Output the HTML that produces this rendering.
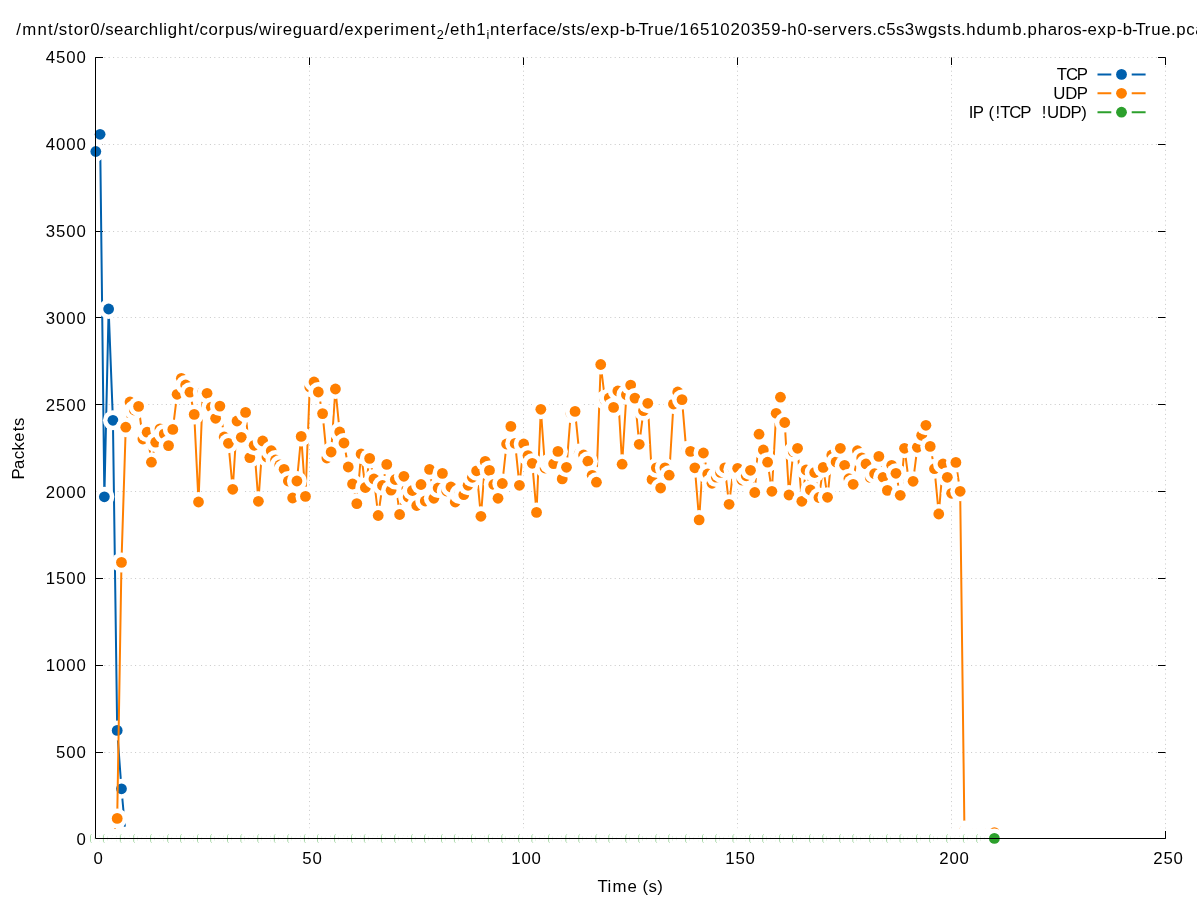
<!DOCTYPE html>
<html><head><meta charset="utf-8"><style>
html,body{margin:0;padding:0;background:#fff;width:1197px;height:900px;overflow:hidden}
svg{display:block;will-change:transform}
text{font-family:"Liberation Sans",sans-serif;font-size:16.8px;fill:#000;white-space:pre}
</style></head><body>
<svg width="1197" height="900" viewBox="0 0 1197 900">
<rect width="100%" height="100%" fill="#fff"/>
<path d="M95.5 838.5H1165.5 M95.5 752.5H1165.5 M95.5 665.5H1165.5 M95.5 578.5H1165.5 M95.5 491.5H1165.5 M95.5 404.5H1165.5 M95.5 317.5H1165.5 M95.5 231.5H1165.5 M95.5 144.5H1165.5 M95.5 57.5H1165.5 M95.5 57.5V838.5 M309.5 57.5V838.5 M523.5 57.5V838.5 M737.5 57.5V838.5 M951.5 57.5V838.5 M1165.5 57.5V838.5" stroke="#c8c8c8" stroke-width="1" stroke-dasharray="1 3.4" fill="none"/>
<path d="M95.5 838.5h7.5M1165.5 838.5h-7.5M95.5 752.5h7.5M1165.5 752.5h-7.5M95.5 665.5h7.5M1165.5 665.5h-7.5M95.5 578.5h7.5M1165.5 578.5h-7.5M95.5 491.5h7.5M1165.5 491.5h-7.5M95.5 404.5h7.5M1165.5 404.5h-7.5M95.5 317.5h7.5M1165.5 317.5h-7.5M95.5 231.5h7.5M1165.5 231.5h-7.5M95.5 144.5h7.5M1165.5 144.5h-7.5M95.5 57.5h7.5M1165.5 57.5h-7.5M95.5 838.5v-7.5M95.5 57.5v7.5M309.5 838.5v-7.5M309.5 57.5v7.5M523.5 838.5v-7.5M523.5 57.5v7.5M737.5 838.5v-7.5M737.5 57.5v7.5M951.5 838.5v-7.5M951.5 57.5v7.5M1165.5 838.5v-7.5M1165.5 57.5v7.5" stroke="#000" stroke-width="1" fill="none"/>
<path d="M95.80 151.50 L100.08 134.30 L104.36 496.80 L108.64 309.00 L112.92 420.30 L117.19 730.40 L121.47 788.80 L125.75 836.50 L130.03 838.40 L134.31 838.40 L138.59 838.40 L142.87 838.40 L147.15 838.40 L151.43 838.40 L155.71 838.40 L159.99 838.40 L164.26 838.40 L168.54 838.40 L172.82 838.40 L177.10 838.40 L181.38 838.40 L185.66 838.40 L189.94 838.40 L194.22 838.40 L198.50 838.40 L202.77 838.40 L207.05 838.40 L211.33 838.40 L215.61 838.40 L219.89 838.40 L224.17 838.40 L228.45 838.40 L232.73 838.40 L237.01 838.40 L241.29 838.40 L245.56 838.40 L249.84 838.40 L254.12 838.40 L258.40 838.40 L262.68 838.40 L266.96 838.40 L271.24 838.40 L275.52 838.40 L279.80 838.40 L284.08 838.40 L288.36 838.40 L292.63 838.40 L296.91 838.40 L301.19 838.40 L305.47 838.40 L309.75 838.40 L314.03 838.40 L318.31 838.40 L322.59 838.40 L326.87 838.40 L331.14 838.40 L335.42 838.40 L339.70 838.40 L343.98 838.40 L348.26 838.40 L352.54 838.40 L356.82 838.40 L361.10 838.40 L365.38 838.40 L369.66 838.40 L373.94 838.40 L378.21 838.40 L382.49 838.40 L386.77 838.40 L391.05 838.40 L395.33 838.40 L399.61 838.40 L403.89 838.40 L408.17 838.40 L412.45 838.40 L416.73 838.40 L421.00 838.40 L425.28 838.40 L429.56 838.40 L433.84 838.40 L438.12 838.40 L442.40 838.40 L446.68 838.40 L450.96 838.40 L455.24 838.40 L459.51 838.40 L463.79 838.40 L468.07 838.40 L472.35 838.40 L476.63 838.40 L480.91 838.40 L485.19 838.40 L489.47 838.40 L493.75 838.40 L498.03 838.40 L502.31 838.40 L506.58 838.40 L510.86 838.40 L515.14 838.40 L519.42 838.40 L523.70 838.40 L527.98 838.40 L532.26 838.40 L536.54 838.40 L540.82 838.40 L545.10 838.40 L549.37 838.40 L553.65 838.40 L557.93 838.40 L562.21 838.40 L566.49 838.40 L570.77 838.40 L575.05 838.40 L579.33 838.40 L583.61 838.40 L587.88 838.40 L592.16 838.40 L596.44 838.40 L600.72 838.40 L605.00 838.40 L609.28 838.40 L613.56 838.40 L617.84 838.40 L622.12 838.40 L626.40 838.40 L630.67 838.40 L634.95 838.40 L639.23 838.40 L643.51 838.40 L647.79 838.40 L652.07 838.40 L656.35 838.40 L660.63 838.40 L664.91 838.40 L669.19 838.40 L673.46 838.40 L677.74 838.40 L682.02 838.40 L686.30 838.40 L690.58 838.40 L694.86 838.40 L699.14 838.40 L703.42 838.40 L707.70 838.40 L711.98 838.40 L716.25 838.40 L720.53 838.40 L724.81 838.40 L729.09 838.40 L733.37 838.40 L737.65 838.40 L741.93 838.40 L746.21 838.40 L750.49 838.40 L754.77 838.40 L759.04 838.40 L763.32 838.40 L767.60 838.40 L771.88 838.40 L776.16 838.40 L780.44 838.40 L784.72 838.40 L789.00 838.40 L793.28 838.40 L797.56 838.40 L801.83 838.40 L806.11 838.40 L810.39 838.40 L814.67 838.40 L818.95 838.40 L823.23 838.40 L827.51 838.40 L831.79 838.40 L836.07 838.40 L840.35 838.40 L844.62 838.40 L848.90 838.40 L853.18 838.40 L857.46 838.40 L861.74 838.40 L866.02 838.40 L870.30 838.40 L874.58 838.40 L878.86 838.40 L883.14 838.40 L887.41 838.40 L891.69 838.40 L895.97 838.40 L900.25 838.40 L904.53 838.40 L908.81 838.40 L913.09 838.40 L917.37 838.40 L921.65 838.40 L925.93 838.40 L930.20 838.40 L934.48 838.40 L938.76 838.40 L943.04 838.40 L947.32 838.40 L951.60 838.40 L955.88 838.40 L960.16 838.40 L964.44 838.40 L968.72 838.40 L972.99 838.40 L977.27 838.40 L981.55 838.40 L985.83 838.40 L990.11 838.40 L994.39 838.40" stroke="#0060ad" stroke-width="2.0" fill="none" stroke-linejoin="round"/>
<circle cx="95.80" cy="151.50" r="10.0" fill="#fff"/><circle cx="95.80" cy="151.50" r="5.4" fill="#0060ad"/>
<circle cx="100.08" cy="134.30" r="10.0" fill="#fff"/><circle cx="100.08" cy="134.30" r="5.4" fill="#0060ad"/>
<circle cx="104.36" cy="496.80" r="10.0" fill="#fff"/><circle cx="104.36" cy="496.80" r="5.4" fill="#0060ad"/>
<circle cx="108.64" cy="309.00" r="10.0" fill="#fff"/><circle cx="108.64" cy="309.00" r="5.4" fill="#0060ad"/>
<circle cx="112.92" cy="420.30" r="10.0" fill="#fff"/><circle cx="112.92" cy="420.30" r="5.4" fill="#0060ad"/>
<circle cx="117.19" cy="730.40" r="10.0" fill="#fff"/><circle cx="117.19" cy="730.40" r="5.4" fill="#0060ad"/>
<circle cx="121.47" cy="788.80" r="10.0" fill="#fff"/><circle cx="121.47" cy="788.80" r="5.4" fill="#0060ad"/>
<circle cx="125.75" cy="836.50" r="10.0" fill="#fff"/><circle cx="125.75" cy="836.50" r="5.4" fill="#0060ad"/>
<circle cx="130.03" cy="838.40" r="10.0" fill="#fff"/><circle cx="130.03" cy="838.40" r="5.4" fill="#0060ad"/>
<circle cx="134.31" cy="838.40" r="10.0" fill="#fff"/><circle cx="134.31" cy="838.40" r="5.4" fill="#0060ad"/>
<circle cx="138.59" cy="838.40" r="10.0" fill="#fff"/><circle cx="138.59" cy="838.40" r="5.4" fill="#0060ad"/>
<circle cx="142.87" cy="838.40" r="10.0" fill="#fff"/><circle cx="142.87" cy="838.40" r="5.4" fill="#0060ad"/>
<circle cx="147.15" cy="838.40" r="10.0" fill="#fff"/><circle cx="147.15" cy="838.40" r="5.4" fill="#0060ad"/>
<circle cx="151.43" cy="838.40" r="10.0" fill="#fff"/><circle cx="151.43" cy="838.40" r="5.4" fill="#0060ad"/>
<circle cx="155.71" cy="838.40" r="10.0" fill="#fff"/><circle cx="155.71" cy="838.40" r="5.4" fill="#0060ad"/>
<circle cx="159.99" cy="838.40" r="10.0" fill="#fff"/><circle cx="159.99" cy="838.40" r="5.4" fill="#0060ad"/>
<circle cx="164.26" cy="838.40" r="10.0" fill="#fff"/><circle cx="164.26" cy="838.40" r="5.4" fill="#0060ad"/>
<circle cx="168.54" cy="838.40" r="10.0" fill="#fff"/><circle cx="168.54" cy="838.40" r="5.4" fill="#0060ad"/>
<circle cx="172.82" cy="838.40" r="10.0" fill="#fff"/><circle cx="172.82" cy="838.40" r="5.4" fill="#0060ad"/>
<circle cx="177.10" cy="838.40" r="10.0" fill="#fff"/><circle cx="177.10" cy="838.40" r="5.4" fill="#0060ad"/>
<circle cx="181.38" cy="838.40" r="10.0" fill="#fff"/><circle cx="181.38" cy="838.40" r="5.4" fill="#0060ad"/>
<circle cx="185.66" cy="838.40" r="10.0" fill="#fff"/><circle cx="185.66" cy="838.40" r="5.4" fill="#0060ad"/>
<circle cx="189.94" cy="838.40" r="10.0" fill="#fff"/><circle cx="189.94" cy="838.40" r="5.4" fill="#0060ad"/>
<circle cx="194.22" cy="838.40" r="10.0" fill="#fff"/><circle cx="194.22" cy="838.40" r="5.4" fill="#0060ad"/>
<circle cx="198.50" cy="838.40" r="10.0" fill="#fff"/><circle cx="198.50" cy="838.40" r="5.4" fill="#0060ad"/>
<circle cx="202.77" cy="838.40" r="10.0" fill="#fff"/><circle cx="202.77" cy="838.40" r="5.4" fill="#0060ad"/>
<circle cx="207.05" cy="838.40" r="10.0" fill="#fff"/><circle cx="207.05" cy="838.40" r="5.4" fill="#0060ad"/>
<circle cx="211.33" cy="838.40" r="10.0" fill="#fff"/><circle cx="211.33" cy="838.40" r="5.4" fill="#0060ad"/>
<circle cx="215.61" cy="838.40" r="10.0" fill="#fff"/><circle cx="215.61" cy="838.40" r="5.4" fill="#0060ad"/>
<circle cx="219.89" cy="838.40" r="10.0" fill="#fff"/><circle cx="219.89" cy="838.40" r="5.4" fill="#0060ad"/>
<circle cx="224.17" cy="838.40" r="10.0" fill="#fff"/><circle cx="224.17" cy="838.40" r="5.4" fill="#0060ad"/>
<circle cx="228.45" cy="838.40" r="10.0" fill="#fff"/><circle cx="228.45" cy="838.40" r="5.4" fill="#0060ad"/>
<circle cx="232.73" cy="838.40" r="10.0" fill="#fff"/><circle cx="232.73" cy="838.40" r="5.4" fill="#0060ad"/>
<circle cx="237.01" cy="838.40" r="10.0" fill="#fff"/><circle cx="237.01" cy="838.40" r="5.4" fill="#0060ad"/>
<circle cx="241.29" cy="838.40" r="10.0" fill="#fff"/><circle cx="241.29" cy="838.40" r="5.4" fill="#0060ad"/>
<circle cx="245.56" cy="838.40" r="10.0" fill="#fff"/><circle cx="245.56" cy="838.40" r="5.4" fill="#0060ad"/>
<circle cx="249.84" cy="838.40" r="10.0" fill="#fff"/><circle cx="249.84" cy="838.40" r="5.4" fill="#0060ad"/>
<circle cx="254.12" cy="838.40" r="10.0" fill="#fff"/><circle cx="254.12" cy="838.40" r="5.4" fill="#0060ad"/>
<circle cx="258.40" cy="838.40" r="10.0" fill="#fff"/><circle cx="258.40" cy="838.40" r="5.4" fill="#0060ad"/>
<circle cx="262.68" cy="838.40" r="10.0" fill="#fff"/><circle cx="262.68" cy="838.40" r="5.4" fill="#0060ad"/>
<circle cx="266.96" cy="838.40" r="10.0" fill="#fff"/><circle cx="266.96" cy="838.40" r="5.4" fill="#0060ad"/>
<circle cx="271.24" cy="838.40" r="10.0" fill="#fff"/><circle cx="271.24" cy="838.40" r="5.4" fill="#0060ad"/>
<circle cx="275.52" cy="838.40" r="10.0" fill="#fff"/><circle cx="275.52" cy="838.40" r="5.4" fill="#0060ad"/>
<circle cx="279.80" cy="838.40" r="10.0" fill="#fff"/><circle cx="279.80" cy="838.40" r="5.4" fill="#0060ad"/>
<circle cx="284.08" cy="838.40" r="10.0" fill="#fff"/><circle cx="284.08" cy="838.40" r="5.4" fill="#0060ad"/>
<circle cx="288.36" cy="838.40" r="10.0" fill="#fff"/><circle cx="288.36" cy="838.40" r="5.4" fill="#0060ad"/>
<circle cx="292.63" cy="838.40" r="10.0" fill="#fff"/><circle cx="292.63" cy="838.40" r="5.4" fill="#0060ad"/>
<circle cx="296.91" cy="838.40" r="10.0" fill="#fff"/><circle cx="296.91" cy="838.40" r="5.4" fill="#0060ad"/>
<circle cx="301.19" cy="838.40" r="10.0" fill="#fff"/><circle cx="301.19" cy="838.40" r="5.4" fill="#0060ad"/>
<circle cx="305.47" cy="838.40" r="10.0" fill="#fff"/><circle cx="305.47" cy="838.40" r="5.4" fill="#0060ad"/>
<circle cx="309.75" cy="838.40" r="10.0" fill="#fff"/><circle cx="309.75" cy="838.40" r="5.4" fill="#0060ad"/>
<circle cx="314.03" cy="838.40" r="10.0" fill="#fff"/><circle cx="314.03" cy="838.40" r="5.4" fill="#0060ad"/>
<circle cx="318.31" cy="838.40" r="10.0" fill="#fff"/><circle cx="318.31" cy="838.40" r="5.4" fill="#0060ad"/>
<circle cx="322.59" cy="838.40" r="10.0" fill="#fff"/><circle cx="322.59" cy="838.40" r="5.4" fill="#0060ad"/>
<circle cx="326.87" cy="838.40" r="10.0" fill="#fff"/><circle cx="326.87" cy="838.40" r="5.4" fill="#0060ad"/>
<circle cx="331.14" cy="838.40" r="10.0" fill="#fff"/><circle cx="331.14" cy="838.40" r="5.4" fill="#0060ad"/>
<circle cx="335.42" cy="838.40" r="10.0" fill="#fff"/><circle cx="335.42" cy="838.40" r="5.4" fill="#0060ad"/>
<circle cx="339.70" cy="838.40" r="10.0" fill="#fff"/><circle cx="339.70" cy="838.40" r="5.4" fill="#0060ad"/>
<circle cx="343.98" cy="838.40" r="10.0" fill="#fff"/><circle cx="343.98" cy="838.40" r="5.4" fill="#0060ad"/>
<circle cx="348.26" cy="838.40" r="10.0" fill="#fff"/><circle cx="348.26" cy="838.40" r="5.4" fill="#0060ad"/>
<circle cx="352.54" cy="838.40" r="10.0" fill="#fff"/><circle cx="352.54" cy="838.40" r="5.4" fill="#0060ad"/>
<circle cx="356.82" cy="838.40" r="10.0" fill="#fff"/><circle cx="356.82" cy="838.40" r="5.4" fill="#0060ad"/>
<circle cx="361.10" cy="838.40" r="10.0" fill="#fff"/><circle cx="361.10" cy="838.40" r="5.4" fill="#0060ad"/>
<circle cx="365.38" cy="838.40" r="10.0" fill="#fff"/><circle cx="365.38" cy="838.40" r="5.4" fill="#0060ad"/>
<circle cx="369.66" cy="838.40" r="10.0" fill="#fff"/><circle cx="369.66" cy="838.40" r="5.4" fill="#0060ad"/>
<circle cx="373.94" cy="838.40" r="10.0" fill="#fff"/><circle cx="373.94" cy="838.40" r="5.4" fill="#0060ad"/>
<circle cx="378.21" cy="838.40" r="10.0" fill="#fff"/><circle cx="378.21" cy="838.40" r="5.4" fill="#0060ad"/>
<circle cx="382.49" cy="838.40" r="10.0" fill="#fff"/><circle cx="382.49" cy="838.40" r="5.4" fill="#0060ad"/>
<circle cx="386.77" cy="838.40" r="10.0" fill="#fff"/><circle cx="386.77" cy="838.40" r="5.4" fill="#0060ad"/>
<circle cx="391.05" cy="838.40" r="10.0" fill="#fff"/><circle cx="391.05" cy="838.40" r="5.4" fill="#0060ad"/>
<circle cx="395.33" cy="838.40" r="10.0" fill="#fff"/><circle cx="395.33" cy="838.40" r="5.4" fill="#0060ad"/>
<circle cx="399.61" cy="838.40" r="10.0" fill="#fff"/><circle cx="399.61" cy="838.40" r="5.4" fill="#0060ad"/>
<circle cx="403.89" cy="838.40" r="10.0" fill="#fff"/><circle cx="403.89" cy="838.40" r="5.4" fill="#0060ad"/>
<circle cx="408.17" cy="838.40" r="10.0" fill="#fff"/><circle cx="408.17" cy="838.40" r="5.4" fill="#0060ad"/>
<circle cx="412.45" cy="838.40" r="10.0" fill="#fff"/><circle cx="412.45" cy="838.40" r="5.4" fill="#0060ad"/>
<circle cx="416.73" cy="838.40" r="10.0" fill="#fff"/><circle cx="416.73" cy="838.40" r="5.4" fill="#0060ad"/>
<circle cx="421.00" cy="838.40" r="10.0" fill="#fff"/><circle cx="421.00" cy="838.40" r="5.4" fill="#0060ad"/>
<circle cx="425.28" cy="838.40" r="10.0" fill="#fff"/><circle cx="425.28" cy="838.40" r="5.4" fill="#0060ad"/>
<circle cx="429.56" cy="838.40" r="10.0" fill="#fff"/><circle cx="429.56" cy="838.40" r="5.4" fill="#0060ad"/>
<circle cx="433.84" cy="838.40" r="10.0" fill="#fff"/><circle cx="433.84" cy="838.40" r="5.4" fill="#0060ad"/>
<circle cx="438.12" cy="838.40" r="10.0" fill="#fff"/><circle cx="438.12" cy="838.40" r="5.4" fill="#0060ad"/>
<circle cx="442.40" cy="838.40" r="10.0" fill="#fff"/><circle cx="442.40" cy="838.40" r="5.4" fill="#0060ad"/>
<circle cx="446.68" cy="838.40" r="10.0" fill="#fff"/><circle cx="446.68" cy="838.40" r="5.4" fill="#0060ad"/>
<circle cx="450.96" cy="838.40" r="10.0" fill="#fff"/><circle cx="450.96" cy="838.40" r="5.4" fill="#0060ad"/>
<circle cx="455.24" cy="838.40" r="10.0" fill="#fff"/><circle cx="455.24" cy="838.40" r="5.4" fill="#0060ad"/>
<circle cx="459.51" cy="838.40" r="10.0" fill="#fff"/><circle cx="459.51" cy="838.40" r="5.4" fill="#0060ad"/>
<circle cx="463.79" cy="838.40" r="10.0" fill="#fff"/><circle cx="463.79" cy="838.40" r="5.4" fill="#0060ad"/>
<circle cx="468.07" cy="838.40" r="10.0" fill="#fff"/><circle cx="468.07" cy="838.40" r="5.4" fill="#0060ad"/>
<circle cx="472.35" cy="838.40" r="10.0" fill="#fff"/><circle cx="472.35" cy="838.40" r="5.4" fill="#0060ad"/>
<circle cx="476.63" cy="838.40" r="10.0" fill="#fff"/><circle cx="476.63" cy="838.40" r="5.4" fill="#0060ad"/>
<circle cx="480.91" cy="838.40" r="10.0" fill="#fff"/><circle cx="480.91" cy="838.40" r="5.4" fill="#0060ad"/>
<circle cx="485.19" cy="838.40" r="10.0" fill="#fff"/><circle cx="485.19" cy="838.40" r="5.4" fill="#0060ad"/>
<circle cx="489.47" cy="838.40" r="10.0" fill="#fff"/><circle cx="489.47" cy="838.40" r="5.4" fill="#0060ad"/>
<circle cx="493.75" cy="838.40" r="10.0" fill="#fff"/><circle cx="493.75" cy="838.40" r="5.4" fill="#0060ad"/>
<circle cx="498.03" cy="838.40" r="10.0" fill="#fff"/><circle cx="498.03" cy="838.40" r="5.4" fill="#0060ad"/>
<circle cx="502.31" cy="838.40" r="10.0" fill="#fff"/><circle cx="502.31" cy="838.40" r="5.4" fill="#0060ad"/>
<circle cx="506.58" cy="838.40" r="10.0" fill="#fff"/><circle cx="506.58" cy="838.40" r="5.4" fill="#0060ad"/>
<circle cx="510.86" cy="838.40" r="10.0" fill="#fff"/><circle cx="510.86" cy="838.40" r="5.4" fill="#0060ad"/>
<circle cx="515.14" cy="838.40" r="10.0" fill="#fff"/><circle cx="515.14" cy="838.40" r="5.4" fill="#0060ad"/>
<circle cx="519.42" cy="838.40" r="10.0" fill="#fff"/><circle cx="519.42" cy="838.40" r="5.4" fill="#0060ad"/>
<circle cx="523.70" cy="838.40" r="10.0" fill="#fff"/><circle cx="523.70" cy="838.40" r="5.4" fill="#0060ad"/>
<circle cx="527.98" cy="838.40" r="10.0" fill="#fff"/><circle cx="527.98" cy="838.40" r="5.4" fill="#0060ad"/>
<circle cx="532.26" cy="838.40" r="10.0" fill="#fff"/><circle cx="532.26" cy="838.40" r="5.4" fill="#0060ad"/>
<circle cx="536.54" cy="838.40" r="10.0" fill="#fff"/><circle cx="536.54" cy="838.40" r="5.4" fill="#0060ad"/>
<circle cx="540.82" cy="838.40" r="10.0" fill="#fff"/><circle cx="540.82" cy="838.40" r="5.4" fill="#0060ad"/>
<circle cx="545.10" cy="838.40" r="10.0" fill="#fff"/><circle cx="545.10" cy="838.40" r="5.4" fill="#0060ad"/>
<circle cx="549.37" cy="838.40" r="10.0" fill="#fff"/><circle cx="549.37" cy="838.40" r="5.4" fill="#0060ad"/>
<circle cx="553.65" cy="838.40" r="10.0" fill="#fff"/><circle cx="553.65" cy="838.40" r="5.4" fill="#0060ad"/>
<circle cx="557.93" cy="838.40" r="10.0" fill="#fff"/><circle cx="557.93" cy="838.40" r="5.4" fill="#0060ad"/>
<circle cx="562.21" cy="838.40" r="10.0" fill="#fff"/><circle cx="562.21" cy="838.40" r="5.4" fill="#0060ad"/>
<circle cx="566.49" cy="838.40" r="10.0" fill="#fff"/><circle cx="566.49" cy="838.40" r="5.4" fill="#0060ad"/>
<circle cx="570.77" cy="838.40" r="10.0" fill="#fff"/><circle cx="570.77" cy="838.40" r="5.4" fill="#0060ad"/>
<circle cx="575.05" cy="838.40" r="10.0" fill="#fff"/><circle cx="575.05" cy="838.40" r="5.4" fill="#0060ad"/>
<circle cx="579.33" cy="838.40" r="10.0" fill="#fff"/><circle cx="579.33" cy="838.40" r="5.4" fill="#0060ad"/>
<circle cx="583.61" cy="838.40" r="10.0" fill="#fff"/><circle cx="583.61" cy="838.40" r="5.4" fill="#0060ad"/>
<circle cx="587.88" cy="838.40" r="10.0" fill="#fff"/><circle cx="587.88" cy="838.40" r="5.4" fill="#0060ad"/>
<circle cx="592.16" cy="838.40" r="10.0" fill="#fff"/><circle cx="592.16" cy="838.40" r="5.4" fill="#0060ad"/>
<circle cx="596.44" cy="838.40" r="10.0" fill="#fff"/><circle cx="596.44" cy="838.40" r="5.4" fill="#0060ad"/>
<circle cx="600.72" cy="838.40" r="10.0" fill="#fff"/><circle cx="600.72" cy="838.40" r="5.4" fill="#0060ad"/>
<circle cx="605.00" cy="838.40" r="10.0" fill="#fff"/><circle cx="605.00" cy="838.40" r="5.4" fill="#0060ad"/>
<circle cx="609.28" cy="838.40" r="10.0" fill="#fff"/><circle cx="609.28" cy="838.40" r="5.4" fill="#0060ad"/>
<circle cx="613.56" cy="838.40" r="10.0" fill="#fff"/><circle cx="613.56" cy="838.40" r="5.4" fill="#0060ad"/>
<circle cx="617.84" cy="838.40" r="10.0" fill="#fff"/><circle cx="617.84" cy="838.40" r="5.4" fill="#0060ad"/>
<circle cx="622.12" cy="838.40" r="10.0" fill="#fff"/><circle cx="622.12" cy="838.40" r="5.4" fill="#0060ad"/>
<circle cx="626.40" cy="838.40" r="10.0" fill="#fff"/><circle cx="626.40" cy="838.40" r="5.4" fill="#0060ad"/>
<circle cx="630.67" cy="838.40" r="10.0" fill="#fff"/><circle cx="630.67" cy="838.40" r="5.4" fill="#0060ad"/>
<circle cx="634.95" cy="838.40" r="10.0" fill="#fff"/><circle cx="634.95" cy="838.40" r="5.4" fill="#0060ad"/>
<circle cx="639.23" cy="838.40" r="10.0" fill="#fff"/><circle cx="639.23" cy="838.40" r="5.4" fill="#0060ad"/>
<circle cx="643.51" cy="838.40" r="10.0" fill="#fff"/><circle cx="643.51" cy="838.40" r="5.4" fill="#0060ad"/>
<circle cx="647.79" cy="838.40" r="10.0" fill="#fff"/><circle cx="647.79" cy="838.40" r="5.4" fill="#0060ad"/>
<circle cx="652.07" cy="838.40" r="10.0" fill="#fff"/><circle cx="652.07" cy="838.40" r="5.4" fill="#0060ad"/>
<circle cx="656.35" cy="838.40" r="10.0" fill="#fff"/><circle cx="656.35" cy="838.40" r="5.4" fill="#0060ad"/>
<circle cx="660.63" cy="838.40" r="10.0" fill="#fff"/><circle cx="660.63" cy="838.40" r="5.4" fill="#0060ad"/>
<circle cx="664.91" cy="838.40" r="10.0" fill="#fff"/><circle cx="664.91" cy="838.40" r="5.4" fill="#0060ad"/>
<circle cx="669.19" cy="838.40" r="10.0" fill="#fff"/><circle cx="669.19" cy="838.40" r="5.4" fill="#0060ad"/>
<circle cx="673.46" cy="838.40" r="10.0" fill="#fff"/><circle cx="673.46" cy="838.40" r="5.4" fill="#0060ad"/>
<circle cx="677.74" cy="838.40" r="10.0" fill="#fff"/><circle cx="677.74" cy="838.40" r="5.4" fill="#0060ad"/>
<circle cx="682.02" cy="838.40" r="10.0" fill="#fff"/><circle cx="682.02" cy="838.40" r="5.4" fill="#0060ad"/>
<circle cx="686.30" cy="838.40" r="10.0" fill="#fff"/><circle cx="686.30" cy="838.40" r="5.4" fill="#0060ad"/>
<circle cx="690.58" cy="838.40" r="10.0" fill="#fff"/><circle cx="690.58" cy="838.40" r="5.4" fill="#0060ad"/>
<circle cx="694.86" cy="838.40" r="10.0" fill="#fff"/><circle cx="694.86" cy="838.40" r="5.4" fill="#0060ad"/>
<circle cx="699.14" cy="838.40" r="10.0" fill="#fff"/><circle cx="699.14" cy="838.40" r="5.4" fill="#0060ad"/>
<circle cx="703.42" cy="838.40" r="10.0" fill="#fff"/><circle cx="703.42" cy="838.40" r="5.4" fill="#0060ad"/>
<circle cx="707.70" cy="838.40" r="10.0" fill="#fff"/><circle cx="707.70" cy="838.40" r="5.4" fill="#0060ad"/>
<circle cx="711.98" cy="838.40" r="10.0" fill="#fff"/><circle cx="711.98" cy="838.40" r="5.4" fill="#0060ad"/>
<circle cx="716.25" cy="838.40" r="10.0" fill="#fff"/><circle cx="716.25" cy="838.40" r="5.4" fill="#0060ad"/>
<circle cx="720.53" cy="838.40" r="10.0" fill="#fff"/><circle cx="720.53" cy="838.40" r="5.4" fill="#0060ad"/>
<circle cx="724.81" cy="838.40" r="10.0" fill="#fff"/><circle cx="724.81" cy="838.40" r="5.4" fill="#0060ad"/>
<circle cx="729.09" cy="838.40" r="10.0" fill="#fff"/><circle cx="729.09" cy="838.40" r="5.4" fill="#0060ad"/>
<circle cx="733.37" cy="838.40" r="10.0" fill="#fff"/><circle cx="733.37" cy="838.40" r="5.4" fill="#0060ad"/>
<circle cx="737.65" cy="838.40" r="10.0" fill="#fff"/><circle cx="737.65" cy="838.40" r="5.4" fill="#0060ad"/>
<circle cx="741.93" cy="838.40" r="10.0" fill="#fff"/><circle cx="741.93" cy="838.40" r="5.4" fill="#0060ad"/>
<circle cx="746.21" cy="838.40" r="10.0" fill="#fff"/><circle cx="746.21" cy="838.40" r="5.4" fill="#0060ad"/>
<circle cx="750.49" cy="838.40" r="10.0" fill="#fff"/><circle cx="750.49" cy="838.40" r="5.4" fill="#0060ad"/>
<circle cx="754.77" cy="838.40" r="10.0" fill="#fff"/><circle cx="754.77" cy="838.40" r="5.4" fill="#0060ad"/>
<circle cx="759.04" cy="838.40" r="10.0" fill="#fff"/><circle cx="759.04" cy="838.40" r="5.4" fill="#0060ad"/>
<circle cx="763.32" cy="838.40" r="10.0" fill="#fff"/><circle cx="763.32" cy="838.40" r="5.4" fill="#0060ad"/>
<circle cx="767.60" cy="838.40" r="10.0" fill="#fff"/><circle cx="767.60" cy="838.40" r="5.4" fill="#0060ad"/>
<circle cx="771.88" cy="838.40" r="10.0" fill="#fff"/><circle cx="771.88" cy="838.40" r="5.4" fill="#0060ad"/>
<circle cx="776.16" cy="838.40" r="10.0" fill="#fff"/><circle cx="776.16" cy="838.40" r="5.4" fill="#0060ad"/>
<circle cx="780.44" cy="838.40" r="10.0" fill="#fff"/><circle cx="780.44" cy="838.40" r="5.4" fill="#0060ad"/>
<circle cx="784.72" cy="838.40" r="10.0" fill="#fff"/><circle cx="784.72" cy="838.40" r="5.4" fill="#0060ad"/>
<circle cx="789.00" cy="838.40" r="10.0" fill="#fff"/><circle cx="789.00" cy="838.40" r="5.4" fill="#0060ad"/>
<circle cx="793.28" cy="838.40" r="10.0" fill="#fff"/><circle cx="793.28" cy="838.40" r="5.4" fill="#0060ad"/>
<circle cx="797.56" cy="838.40" r="10.0" fill="#fff"/><circle cx="797.56" cy="838.40" r="5.4" fill="#0060ad"/>
<circle cx="801.83" cy="838.40" r="10.0" fill="#fff"/><circle cx="801.83" cy="838.40" r="5.4" fill="#0060ad"/>
<circle cx="806.11" cy="838.40" r="10.0" fill="#fff"/><circle cx="806.11" cy="838.40" r="5.4" fill="#0060ad"/>
<circle cx="810.39" cy="838.40" r="10.0" fill="#fff"/><circle cx="810.39" cy="838.40" r="5.4" fill="#0060ad"/>
<circle cx="814.67" cy="838.40" r="10.0" fill="#fff"/><circle cx="814.67" cy="838.40" r="5.4" fill="#0060ad"/>
<circle cx="818.95" cy="838.40" r="10.0" fill="#fff"/><circle cx="818.95" cy="838.40" r="5.4" fill="#0060ad"/>
<circle cx="823.23" cy="838.40" r="10.0" fill="#fff"/><circle cx="823.23" cy="838.40" r="5.4" fill="#0060ad"/>
<circle cx="827.51" cy="838.40" r="10.0" fill="#fff"/><circle cx="827.51" cy="838.40" r="5.4" fill="#0060ad"/>
<circle cx="831.79" cy="838.40" r="10.0" fill="#fff"/><circle cx="831.79" cy="838.40" r="5.4" fill="#0060ad"/>
<circle cx="836.07" cy="838.40" r="10.0" fill="#fff"/><circle cx="836.07" cy="838.40" r="5.4" fill="#0060ad"/>
<circle cx="840.35" cy="838.40" r="10.0" fill="#fff"/><circle cx="840.35" cy="838.40" r="5.4" fill="#0060ad"/>
<circle cx="844.62" cy="838.40" r="10.0" fill="#fff"/><circle cx="844.62" cy="838.40" r="5.4" fill="#0060ad"/>
<circle cx="848.90" cy="838.40" r="10.0" fill="#fff"/><circle cx="848.90" cy="838.40" r="5.4" fill="#0060ad"/>
<circle cx="853.18" cy="838.40" r="10.0" fill="#fff"/><circle cx="853.18" cy="838.40" r="5.4" fill="#0060ad"/>
<circle cx="857.46" cy="838.40" r="10.0" fill="#fff"/><circle cx="857.46" cy="838.40" r="5.4" fill="#0060ad"/>
<circle cx="861.74" cy="838.40" r="10.0" fill="#fff"/><circle cx="861.74" cy="838.40" r="5.4" fill="#0060ad"/>
<circle cx="866.02" cy="838.40" r="10.0" fill="#fff"/><circle cx="866.02" cy="838.40" r="5.4" fill="#0060ad"/>
<circle cx="870.30" cy="838.40" r="10.0" fill="#fff"/><circle cx="870.30" cy="838.40" r="5.4" fill="#0060ad"/>
<circle cx="874.58" cy="838.40" r="10.0" fill="#fff"/><circle cx="874.58" cy="838.40" r="5.4" fill="#0060ad"/>
<circle cx="878.86" cy="838.40" r="10.0" fill="#fff"/><circle cx="878.86" cy="838.40" r="5.4" fill="#0060ad"/>
<circle cx="883.14" cy="838.40" r="10.0" fill="#fff"/><circle cx="883.14" cy="838.40" r="5.4" fill="#0060ad"/>
<circle cx="887.41" cy="838.40" r="10.0" fill="#fff"/><circle cx="887.41" cy="838.40" r="5.4" fill="#0060ad"/>
<circle cx="891.69" cy="838.40" r="10.0" fill="#fff"/><circle cx="891.69" cy="838.40" r="5.4" fill="#0060ad"/>
<circle cx="895.97" cy="838.40" r="10.0" fill="#fff"/><circle cx="895.97" cy="838.40" r="5.4" fill="#0060ad"/>
<circle cx="900.25" cy="838.40" r="10.0" fill="#fff"/><circle cx="900.25" cy="838.40" r="5.4" fill="#0060ad"/>
<circle cx="904.53" cy="838.40" r="10.0" fill="#fff"/><circle cx="904.53" cy="838.40" r="5.4" fill="#0060ad"/>
<circle cx="908.81" cy="838.40" r="10.0" fill="#fff"/><circle cx="908.81" cy="838.40" r="5.4" fill="#0060ad"/>
<circle cx="913.09" cy="838.40" r="10.0" fill="#fff"/><circle cx="913.09" cy="838.40" r="5.4" fill="#0060ad"/>
<circle cx="917.37" cy="838.40" r="10.0" fill="#fff"/><circle cx="917.37" cy="838.40" r="5.4" fill="#0060ad"/>
<circle cx="921.65" cy="838.40" r="10.0" fill="#fff"/><circle cx="921.65" cy="838.40" r="5.4" fill="#0060ad"/>
<circle cx="925.93" cy="838.40" r="10.0" fill="#fff"/><circle cx="925.93" cy="838.40" r="5.4" fill="#0060ad"/>
<circle cx="930.20" cy="838.40" r="10.0" fill="#fff"/><circle cx="930.20" cy="838.40" r="5.4" fill="#0060ad"/>
<circle cx="934.48" cy="838.40" r="10.0" fill="#fff"/><circle cx="934.48" cy="838.40" r="5.4" fill="#0060ad"/>
<circle cx="938.76" cy="838.40" r="10.0" fill="#fff"/><circle cx="938.76" cy="838.40" r="5.4" fill="#0060ad"/>
<circle cx="943.04" cy="838.40" r="10.0" fill="#fff"/><circle cx="943.04" cy="838.40" r="5.4" fill="#0060ad"/>
<circle cx="947.32" cy="838.40" r="10.0" fill="#fff"/><circle cx="947.32" cy="838.40" r="5.4" fill="#0060ad"/>
<circle cx="951.60" cy="838.40" r="10.0" fill="#fff"/><circle cx="951.60" cy="838.40" r="5.4" fill="#0060ad"/>
<circle cx="955.88" cy="838.40" r="10.0" fill="#fff"/><circle cx="955.88" cy="838.40" r="5.4" fill="#0060ad"/>
<circle cx="960.16" cy="838.40" r="10.0" fill="#fff"/><circle cx="960.16" cy="838.40" r="5.4" fill="#0060ad"/>
<circle cx="964.44" cy="838.40" r="10.0" fill="#fff"/><circle cx="964.44" cy="838.40" r="5.4" fill="#0060ad"/>
<circle cx="968.72" cy="838.40" r="10.0" fill="#fff"/><circle cx="968.72" cy="838.40" r="5.4" fill="#0060ad"/>
<circle cx="972.99" cy="838.40" r="10.0" fill="#fff"/><circle cx="972.99" cy="838.40" r="5.4" fill="#0060ad"/>
<circle cx="977.27" cy="838.40" r="10.0" fill="#fff"/><circle cx="977.27" cy="838.40" r="5.4" fill="#0060ad"/>
<circle cx="981.55" cy="838.40" r="10.0" fill="#fff"/><circle cx="981.55" cy="838.40" r="5.4" fill="#0060ad"/>
<circle cx="985.83" cy="838.40" r="10.0" fill="#fff"/><circle cx="985.83" cy="838.40" r="5.4" fill="#0060ad"/>
<circle cx="990.11" cy="838.40" r="10.0" fill="#fff"/><circle cx="990.11" cy="838.40" r="5.4" fill="#0060ad"/>
<circle cx="994.39" cy="838.40" r="10.0" fill="#fff"/><circle cx="994.39" cy="838.40" r="5.4" fill="#0060ad"/>
<path d="M95.80 838.40 L100.08 838.40 L104.36 838.40 L108.64 838.40 L112.92 838.40 L117.19 818.40 L121.47 562.40 L125.75 427.20 L130.03 402.00 L134.31 410.00 L138.59 406.40 L142.87 439.00 L147.15 432.20 L151.43 462.20 L155.71 442.20 L159.99 428.90 L164.26 433.90 L168.54 445.60 L172.82 429.40 L177.10 394.30 L181.38 378.30 L185.66 385.00 L189.94 392.20 L194.22 414.40 L198.50 502.00 L202.77 392.00 L207.05 393.30 L211.33 407.20 L215.61 418.30 L219.89 406.10 L224.17 437.00 L228.45 443.30 L232.73 489.30 L237.01 421.00 L241.29 437.30 L245.56 412.40 L249.84 457.60 L254.12 445.30 L258.40 501.30 L262.68 441.00 L266.96 457.00 L271.24 450.70 L275.52 460.00 L279.80 465.00 L284.08 469.30 L288.36 481.00 L292.63 498.00 L296.91 481.00 L301.19 436.40 L305.47 496.40 L309.75 387.00 L314.03 382.00 L318.31 392.00 L322.59 413.60 L326.87 458.00 L331.14 452.00 L335.42 389.00 L339.70 432.00 L343.98 443.00 L348.26 467.00 L352.54 484.00 L356.82 503.60 L361.10 454.00 L365.38 487.50 L369.66 458.40 L373.94 479.00 L378.21 515.50 L382.49 485.50 L386.77 464.40 L391.05 490.20 L395.33 479.50 L399.61 514.50 L403.89 476.30 L408.17 497.00 L412.45 490.50 L416.73 505.50 L421.00 484.50 L425.28 501.00 L429.56 469.40 L433.84 498.30 L438.12 488.00 L442.40 473.40 L446.68 491.00 L450.96 487.00 L455.24 502.00 L459.51 494.00 L463.79 494.70 L468.07 485.30 L472.35 477.30 L476.63 470.80 L480.91 516.30 L485.19 461.40 L489.47 470.40 L493.75 484.50 L498.03 498.30 L502.31 483.50 L506.58 444.00 L510.86 426.40 L515.14 443.40 L519.42 485.30 L523.70 444.00 L527.98 455.60 L532.26 463.30 L536.54 512.40 L540.82 409.30 L545.10 468.00 L549.37 463.60 L553.65 463.70 L557.93 451.40 L562.21 478.90 L566.49 467.30 L570.77 413.00 L575.05 411.40 L579.33 453.60 L583.61 455.00 L587.88 461.20 L592.16 475.30 L596.44 482.20 L600.72 364.50 L605.00 400.00 L609.28 398.00 L613.56 407.40 L617.84 391.00 L622.12 464.20 L626.40 394.80 L630.67 385.10 L634.95 398.10 L639.23 444.30 L643.51 410.70 L647.79 403.30 L652.07 479.40 L656.35 467.80 L660.63 488.00 L664.91 467.80 L669.19 475.20 L673.46 404.00 L677.74 392.00 L682.02 399.60 L686.30 451.00 L690.58 451.40 L694.86 467.80 L699.14 519.90 L703.42 453.00 L707.70 474.00 L711.98 483.30 L716.25 477.10 L720.53 472.40 L724.81 467.80 L729.09 504.30 L733.37 469.30 L737.65 468.30 L741.93 480.00 L746.21 475.80 L750.49 470.30 L754.77 492.50 L759.04 434.20 L763.32 450.00 L767.60 462.20 L771.88 491.30 L776.16 413.30 L780.44 397.20 L784.72 422.50 L789.00 495.00 L793.28 451.70 L797.56 448.30 L801.83 501.30 L806.11 470.00 L810.39 490.00 L814.67 472.50 L818.95 497.50 L823.23 467.40 L827.51 497.30 L831.79 455.00 L836.07 462.00 L840.35 448.30 L844.62 465.30 L848.90 478.70 L853.18 484.30 L857.46 450.70 L861.74 457.90 L866.02 464.00 L870.30 477.40 L874.58 473.70 L878.86 456.40 L883.14 477.30 L887.41 490.40 L891.69 465.30 L895.97 473.30 L900.25 495.30 L904.53 448.30 L908.81 481.50 L913.09 481.30 L917.37 447.30 L921.65 435.30 L925.93 425.30 L930.20 446.40 L934.48 468.70 L938.76 514.00 L943.04 464.00 L947.32 477.30 L951.60 493.30 L955.88 462.40 L960.16 491.30 L964.44 830.60 L968.72 832.00 L972.99 832.00 L977.27 832.00 L981.55 832.00 L985.83 832.00 L990.11 832.00 L994.39 832.60" stroke="#ff7f00" stroke-width="2.0" fill="none" stroke-linejoin="round"/>
<circle cx="95.80" cy="838.40" r="10.0" fill="#fff"/><circle cx="95.80" cy="838.40" r="5.4" fill="#ff7f00"/>
<circle cx="100.08" cy="838.40" r="10.0" fill="#fff"/><circle cx="100.08" cy="838.40" r="5.4" fill="#ff7f00"/>
<circle cx="104.36" cy="838.40" r="10.0" fill="#fff"/><circle cx="104.36" cy="838.40" r="5.4" fill="#ff7f00"/>
<circle cx="108.64" cy="838.40" r="10.0" fill="#fff"/><circle cx="108.64" cy="838.40" r="5.4" fill="#ff7f00"/>
<circle cx="112.92" cy="838.40" r="10.0" fill="#fff"/><circle cx="112.92" cy="838.40" r="5.4" fill="#ff7f00"/>
<circle cx="117.19" cy="818.40" r="10.0" fill="#fff"/><circle cx="117.19" cy="818.40" r="5.4" fill="#ff7f00"/>
<circle cx="121.47" cy="562.40" r="10.0" fill="#fff"/><circle cx="121.47" cy="562.40" r="5.4" fill="#ff7f00"/>
<circle cx="125.75" cy="427.20" r="10.0" fill="#fff"/><circle cx="125.75" cy="427.20" r="5.4" fill="#ff7f00"/>
<circle cx="130.03" cy="402.00" r="10.0" fill="#fff"/><circle cx="130.03" cy="402.00" r="5.4" fill="#ff7f00"/>
<circle cx="134.31" cy="410.00" r="10.0" fill="#fff"/><circle cx="134.31" cy="410.00" r="5.4" fill="#ff7f00"/>
<circle cx="138.59" cy="406.40" r="10.0" fill="#fff"/><circle cx="138.59" cy="406.40" r="5.4" fill="#ff7f00"/>
<circle cx="142.87" cy="439.00" r="10.0" fill="#fff"/><circle cx="142.87" cy="439.00" r="5.4" fill="#ff7f00"/>
<circle cx="147.15" cy="432.20" r="10.0" fill="#fff"/><circle cx="147.15" cy="432.20" r="5.4" fill="#ff7f00"/>
<circle cx="151.43" cy="462.20" r="10.0" fill="#fff"/><circle cx="151.43" cy="462.20" r="5.4" fill="#ff7f00"/>
<circle cx="155.71" cy="442.20" r="10.0" fill="#fff"/><circle cx="155.71" cy="442.20" r="5.4" fill="#ff7f00"/>
<circle cx="159.99" cy="428.90" r="10.0" fill="#fff"/><circle cx="159.99" cy="428.90" r="5.4" fill="#ff7f00"/>
<circle cx="164.26" cy="433.90" r="10.0" fill="#fff"/><circle cx="164.26" cy="433.90" r="5.4" fill="#ff7f00"/>
<circle cx="168.54" cy="445.60" r="10.0" fill="#fff"/><circle cx="168.54" cy="445.60" r="5.4" fill="#ff7f00"/>
<circle cx="172.82" cy="429.40" r="10.0" fill="#fff"/><circle cx="172.82" cy="429.40" r="5.4" fill="#ff7f00"/>
<circle cx="177.10" cy="394.30" r="10.0" fill="#fff"/><circle cx="177.10" cy="394.30" r="5.4" fill="#ff7f00"/>
<circle cx="181.38" cy="378.30" r="10.0" fill="#fff"/><circle cx="181.38" cy="378.30" r="5.4" fill="#ff7f00"/>
<circle cx="185.66" cy="385.00" r="10.0" fill="#fff"/><circle cx="185.66" cy="385.00" r="5.4" fill="#ff7f00"/>
<circle cx="189.94" cy="392.20" r="10.0" fill="#fff"/><circle cx="189.94" cy="392.20" r="5.4" fill="#ff7f00"/>
<circle cx="194.22" cy="414.40" r="10.0" fill="#fff"/><circle cx="194.22" cy="414.40" r="5.4" fill="#ff7f00"/>
<circle cx="198.50" cy="502.00" r="10.0" fill="#fff"/><circle cx="198.50" cy="502.00" r="5.4" fill="#ff7f00"/>
<circle cx="202.77" cy="392.00" r="10.0" fill="#fff"/><circle cx="202.77" cy="392.00" r="5.4" fill="#ff7f00"/>
<circle cx="207.05" cy="393.30" r="10.0" fill="#fff"/><circle cx="207.05" cy="393.30" r="5.4" fill="#ff7f00"/>
<circle cx="211.33" cy="407.20" r="10.0" fill="#fff"/><circle cx="211.33" cy="407.20" r="5.4" fill="#ff7f00"/>
<circle cx="215.61" cy="418.30" r="10.0" fill="#fff"/><circle cx="215.61" cy="418.30" r="5.4" fill="#ff7f00"/>
<circle cx="219.89" cy="406.10" r="10.0" fill="#fff"/><circle cx="219.89" cy="406.10" r="5.4" fill="#ff7f00"/>
<circle cx="224.17" cy="437.00" r="10.0" fill="#fff"/><circle cx="224.17" cy="437.00" r="5.4" fill="#ff7f00"/>
<circle cx="228.45" cy="443.30" r="10.0" fill="#fff"/><circle cx="228.45" cy="443.30" r="5.4" fill="#ff7f00"/>
<circle cx="232.73" cy="489.30" r="10.0" fill="#fff"/><circle cx="232.73" cy="489.30" r="5.4" fill="#ff7f00"/>
<circle cx="237.01" cy="421.00" r="10.0" fill="#fff"/><circle cx="237.01" cy="421.00" r="5.4" fill="#ff7f00"/>
<circle cx="241.29" cy="437.30" r="10.0" fill="#fff"/><circle cx="241.29" cy="437.30" r="5.4" fill="#ff7f00"/>
<circle cx="245.56" cy="412.40" r="10.0" fill="#fff"/><circle cx="245.56" cy="412.40" r="5.4" fill="#ff7f00"/>
<circle cx="249.84" cy="457.60" r="10.0" fill="#fff"/><circle cx="249.84" cy="457.60" r="5.4" fill="#ff7f00"/>
<circle cx="254.12" cy="445.30" r="10.0" fill="#fff"/><circle cx="254.12" cy="445.30" r="5.4" fill="#ff7f00"/>
<circle cx="258.40" cy="501.30" r="10.0" fill="#fff"/><circle cx="258.40" cy="501.30" r="5.4" fill="#ff7f00"/>
<circle cx="262.68" cy="441.00" r="10.0" fill="#fff"/><circle cx="262.68" cy="441.00" r="5.4" fill="#ff7f00"/>
<circle cx="266.96" cy="457.00" r="10.0" fill="#fff"/><circle cx="266.96" cy="457.00" r="5.4" fill="#ff7f00"/>
<circle cx="271.24" cy="450.70" r="10.0" fill="#fff"/><circle cx="271.24" cy="450.70" r="5.4" fill="#ff7f00"/>
<circle cx="275.52" cy="460.00" r="10.0" fill="#fff"/><circle cx="275.52" cy="460.00" r="5.4" fill="#ff7f00"/>
<circle cx="279.80" cy="465.00" r="10.0" fill="#fff"/><circle cx="279.80" cy="465.00" r="5.4" fill="#ff7f00"/>
<circle cx="284.08" cy="469.30" r="10.0" fill="#fff"/><circle cx="284.08" cy="469.30" r="5.4" fill="#ff7f00"/>
<circle cx="288.36" cy="481.00" r="10.0" fill="#fff"/><circle cx="288.36" cy="481.00" r="5.4" fill="#ff7f00"/>
<circle cx="292.63" cy="498.00" r="10.0" fill="#fff"/><circle cx="292.63" cy="498.00" r="5.4" fill="#ff7f00"/>
<circle cx="296.91" cy="481.00" r="10.0" fill="#fff"/><circle cx="296.91" cy="481.00" r="5.4" fill="#ff7f00"/>
<circle cx="301.19" cy="436.40" r="10.0" fill="#fff"/><circle cx="301.19" cy="436.40" r="5.4" fill="#ff7f00"/>
<circle cx="305.47" cy="496.40" r="10.0" fill="#fff"/><circle cx="305.47" cy="496.40" r="5.4" fill="#ff7f00"/>
<circle cx="309.75" cy="387.00" r="10.0" fill="#fff"/><circle cx="309.75" cy="387.00" r="5.4" fill="#ff7f00"/>
<circle cx="314.03" cy="382.00" r="10.0" fill="#fff"/><circle cx="314.03" cy="382.00" r="5.4" fill="#ff7f00"/>
<circle cx="318.31" cy="392.00" r="10.0" fill="#fff"/><circle cx="318.31" cy="392.00" r="5.4" fill="#ff7f00"/>
<circle cx="322.59" cy="413.60" r="10.0" fill="#fff"/><circle cx="322.59" cy="413.60" r="5.4" fill="#ff7f00"/>
<circle cx="326.87" cy="458.00" r="10.0" fill="#fff"/><circle cx="326.87" cy="458.00" r="5.4" fill="#ff7f00"/>
<circle cx="331.14" cy="452.00" r="10.0" fill="#fff"/><circle cx="331.14" cy="452.00" r="5.4" fill="#ff7f00"/>
<circle cx="335.42" cy="389.00" r="10.0" fill="#fff"/><circle cx="335.42" cy="389.00" r="5.4" fill="#ff7f00"/>
<circle cx="339.70" cy="432.00" r="10.0" fill="#fff"/><circle cx="339.70" cy="432.00" r="5.4" fill="#ff7f00"/>
<circle cx="343.98" cy="443.00" r="10.0" fill="#fff"/><circle cx="343.98" cy="443.00" r="5.4" fill="#ff7f00"/>
<circle cx="348.26" cy="467.00" r="10.0" fill="#fff"/><circle cx="348.26" cy="467.00" r="5.4" fill="#ff7f00"/>
<circle cx="352.54" cy="484.00" r="10.0" fill="#fff"/><circle cx="352.54" cy="484.00" r="5.4" fill="#ff7f00"/>
<circle cx="356.82" cy="503.60" r="10.0" fill="#fff"/><circle cx="356.82" cy="503.60" r="5.4" fill="#ff7f00"/>
<circle cx="361.10" cy="454.00" r="10.0" fill="#fff"/><circle cx="361.10" cy="454.00" r="5.4" fill="#ff7f00"/>
<circle cx="365.38" cy="487.50" r="10.0" fill="#fff"/><circle cx="365.38" cy="487.50" r="5.4" fill="#ff7f00"/>
<circle cx="369.66" cy="458.40" r="10.0" fill="#fff"/><circle cx="369.66" cy="458.40" r="5.4" fill="#ff7f00"/>
<circle cx="373.94" cy="479.00" r="10.0" fill="#fff"/><circle cx="373.94" cy="479.00" r="5.4" fill="#ff7f00"/>
<circle cx="378.21" cy="515.50" r="10.0" fill="#fff"/><circle cx="378.21" cy="515.50" r="5.4" fill="#ff7f00"/>
<circle cx="382.49" cy="485.50" r="10.0" fill="#fff"/><circle cx="382.49" cy="485.50" r="5.4" fill="#ff7f00"/>
<circle cx="386.77" cy="464.40" r="10.0" fill="#fff"/><circle cx="386.77" cy="464.40" r="5.4" fill="#ff7f00"/>
<circle cx="391.05" cy="490.20" r="10.0" fill="#fff"/><circle cx="391.05" cy="490.20" r="5.4" fill="#ff7f00"/>
<circle cx="395.33" cy="479.50" r="10.0" fill="#fff"/><circle cx="395.33" cy="479.50" r="5.4" fill="#ff7f00"/>
<circle cx="399.61" cy="514.50" r="10.0" fill="#fff"/><circle cx="399.61" cy="514.50" r="5.4" fill="#ff7f00"/>
<circle cx="403.89" cy="476.30" r="10.0" fill="#fff"/><circle cx="403.89" cy="476.30" r="5.4" fill="#ff7f00"/>
<circle cx="408.17" cy="497.00" r="10.0" fill="#fff"/><circle cx="408.17" cy="497.00" r="5.4" fill="#ff7f00"/>
<circle cx="412.45" cy="490.50" r="10.0" fill="#fff"/><circle cx="412.45" cy="490.50" r="5.4" fill="#ff7f00"/>
<circle cx="416.73" cy="505.50" r="10.0" fill="#fff"/><circle cx="416.73" cy="505.50" r="5.4" fill="#ff7f00"/>
<circle cx="421.00" cy="484.50" r="10.0" fill="#fff"/><circle cx="421.00" cy="484.50" r="5.4" fill="#ff7f00"/>
<circle cx="425.28" cy="501.00" r="10.0" fill="#fff"/><circle cx="425.28" cy="501.00" r="5.4" fill="#ff7f00"/>
<circle cx="429.56" cy="469.40" r="10.0" fill="#fff"/><circle cx="429.56" cy="469.40" r="5.4" fill="#ff7f00"/>
<circle cx="433.84" cy="498.30" r="10.0" fill="#fff"/><circle cx="433.84" cy="498.30" r="5.4" fill="#ff7f00"/>
<circle cx="438.12" cy="488.00" r="10.0" fill="#fff"/><circle cx="438.12" cy="488.00" r="5.4" fill="#ff7f00"/>
<circle cx="442.40" cy="473.40" r="10.0" fill="#fff"/><circle cx="442.40" cy="473.40" r="5.4" fill="#ff7f00"/>
<circle cx="446.68" cy="491.00" r="10.0" fill="#fff"/><circle cx="446.68" cy="491.00" r="5.4" fill="#ff7f00"/>
<circle cx="450.96" cy="487.00" r="10.0" fill="#fff"/><circle cx="450.96" cy="487.00" r="5.4" fill="#ff7f00"/>
<circle cx="455.24" cy="502.00" r="10.0" fill="#fff"/><circle cx="455.24" cy="502.00" r="5.4" fill="#ff7f00"/>
<circle cx="459.51" cy="494.00" r="10.0" fill="#fff"/><circle cx="459.51" cy="494.00" r="5.4" fill="#ff7f00"/>
<circle cx="463.79" cy="494.70" r="10.0" fill="#fff"/><circle cx="463.79" cy="494.70" r="5.4" fill="#ff7f00"/>
<circle cx="468.07" cy="485.30" r="10.0" fill="#fff"/><circle cx="468.07" cy="485.30" r="5.4" fill="#ff7f00"/>
<circle cx="472.35" cy="477.30" r="10.0" fill="#fff"/><circle cx="472.35" cy="477.30" r="5.4" fill="#ff7f00"/>
<circle cx="476.63" cy="470.80" r="10.0" fill="#fff"/><circle cx="476.63" cy="470.80" r="5.4" fill="#ff7f00"/>
<circle cx="480.91" cy="516.30" r="10.0" fill="#fff"/><circle cx="480.91" cy="516.30" r="5.4" fill="#ff7f00"/>
<circle cx="485.19" cy="461.40" r="10.0" fill="#fff"/><circle cx="485.19" cy="461.40" r="5.4" fill="#ff7f00"/>
<circle cx="489.47" cy="470.40" r="10.0" fill="#fff"/><circle cx="489.47" cy="470.40" r="5.4" fill="#ff7f00"/>
<circle cx="493.75" cy="484.50" r="10.0" fill="#fff"/><circle cx="493.75" cy="484.50" r="5.4" fill="#ff7f00"/>
<circle cx="498.03" cy="498.30" r="10.0" fill="#fff"/><circle cx="498.03" cy="498.30" r="5.4" fill="#ff7f00"/>
<circle cx="502.31" cy="483.50" r="10.0" fill="#fff"/><circle cx="502.31" cy="483.50" r="5.4" fill="#ff7f00"/>
<circle cx="506.58" cy="444.00" r="10.0" fill="#fff"/><circle cx="506.58" cy="444.00" r="5.4" fill="#ff7f00"/>
<circle cx="510.86" cy="426.40" r="10.0" fill="#fff"/><circle cx="510.86" cy="426.40" r="5.4" fill="#ff7f00"/>
<circle cx="515.14" cy="443.40" r="10.0" fill="#fff"/><circle cx="515.14" cy="443.40" r="5.4" fill="#ff7f00"/>
<circle cx="519.42" cy="485.30" r="10.0" fill="#fff"/><circle cx="519.42" cy="485.30" r="5.4" fill="#ff7f00"/>
<circle cx="523.70" cy="444.00" r="10.0" fill="#fff"/><circle cx="523.70" cy="444.00" r="5.4" fill="#ff7f00"/>
<circle cx="527.98" cy="455.60" r="10.0" fill="#fff"/><circle cx="527.98" cy="455.60" r="5.4" fill="#ff7f00"/>
<circle cx="532.26" cy="463.30" r="10.0" fill="#fff"/><circle cx="532.26" cy="463.30" r="5.4" fill="#ff7f00"/>
<circle cx="536.54" cy="512.40" r="10.0" fill="#fff"/><circle cx="536.54" cy="512.40" r="5.4" fill="#ff7f00"/>
<circle cx="540.82" cy="409.30" r="10.0" fill="#fff"/><circle cx="540.82" cy="409.30" r="5.4" fill="#ff7f00"/>
<circle cx="545.10" cy="468.00" r="10.0" fill="#fff"/><circle cx="545.10" cy="468.00" r="5.4" fill="#ff7f00"/>
<circle cx="549.37" cy="463.60" r="10.0" fill="#fff"/><circle cx="549.37" cy="463.60" r="5.4" fill="#ff7f00"/>
<circle cx="553.65" cy="463.70" r="10.0" fill="#fff"/><circle cx="553.65" cy="463.70" r="5.4" fill="#ff7f00"/>
<circle cx="557.93" cy="451.40" r="10.0" fill="#fff"/><circle cx="557.93" cy="451.40" r="5.4" fill="#ff7f00"/>
<circle cx="562.21" cy="478.90" r="10.0" fill="#fff"/><circle cx="562.21" cy="478.90" r="5.4" fill="#ff7f00"/>
<circle cx="566.49" cy="467.30" r="10.0" fill="#fff"/><circle cx="566.49" cy="467.30" r="5.4" fill="#ff7f00"/>
<circle cx="570.77" cy="413.00" r="10.0" fill="#fff"/><circle cx="570.77" cy="413.00" r="5.4" fill="#ff7f00"/>
<circle cx="575.05" cy="411.40" r="10.0" fill="#fff"/><circle cx="575.05" cy="411.40" r="5.4" fill="#ff7f00"/>
<circle cx="579.33" cy="453.60" r="10.0" fill="#fff"/><circle cx="579.33" cy="453.60" r="5.4" fill="#ff7f00"/>
<circle cx="583.61" cy="455.00" r="10.0" fill="#fff"/><circle cx="583.61" cy="455.00" r="5.4" fill="#ff7f00"/>
<circle cx="587.88" cy="461.20" r="10.0" fill="#fff"/><circle cx="587.88" cy="461.20" r="5.4" fill="#ff7f00"/>
<circle cx="592.16" cy="475.30" r="10.0" fill="#fff"/><circle cx="592.16" cy="475.30" r="5.4" fill="#ff7f00"/>
<circle cx="596.44" cy="482.20" r="10.0" fill="#fff"/><circle cx="596.44" cy="482.20" r="5.4" fill="#ff7f00"/>
<circle cx="600.72" cy="364.50" r="10.0" fill="#fff"/><circle cx="600.72" cy="364.50" r="5.4" fill="#ff7f00"/>
<circle cx="605.00" cy="400.00" r="10.0" fill="#fff"/><circle cx="605.00" cy="400.00" r="5.4" fill="#ff7f00"/>
<circle cx="609.28" cy="398.00" r="10.0" fill="#fff"/><circle cx="609.28" cy="398.00" r="5.4" fill="#ff7f00"/>
<circle cx="613.56" cy="407.40" r="10.0" fill="#fff"/><circle cx="613.56" cy="407.40" r="5.4" fill="#ff7f00"/>
<circle cx="617.84" cy="391.00" r="10.0" fill="#fff"/><circle cx="617.84" cy="391.00" r="5.4" fill="#ff7f00"/>
<circle cx="622.12" cy="464.20" r="10.0" fill="#fff"/><circle cx="622.12" cy="464.20" r="5.4" fill="#ff7f00"/>
<circle cx="626.40" cy="394.80" r="10.0" fill="#fff"/><circle cx="626.40" cy="394.80" r="5.4" fill="#ff7f00"/>
<circle cx="630.67" cy="385.10" r="10.0" fill="#fff"/><circle cx="630.67" cy="385.10" r="5.4" fill="#ff7f00"/>
<circle cx="634.95" cy="398.10" r="10.0" fill="#fff"/><circle cx="634.95" cy="398.10" r="5.4" fill="#ff7f00"/>
<circle cx="639.23" cy="444.30" r="10.0" fill="#fff"/><circle cx="639.23" cy="444.30" r="5.4" fill="#ff7f00"/>
<circle cx="643.51" cy="410.70" r="10.0" fill="#fff"/><circle cx="643.51" cy="410.70" r="5.4" fill="#ff7f00"/>
<circle cx="647.79" cy="403.30" r="10.0" fill="#fff"/><circle cx="647.79" cy="403.30" r="5.4" fill="#ff7f00"/>
<circle cx="652.07" cy="479.40" r="10.0" fill="#fff"/><circle cx="652.07" cy="479.40" r="5.4" fill="#ff7f00"/>
<circle cx="656.35" cy="467.80" r="10.0" fill="#fff"/><circle cx="656.35" cy="467.80" r="5.4" fill="#ff7f00"/>
<circle cx="660.63" cy="488.00" r="10.0" fill="#fff"/><circle cx="660.63" cy="488.00" r="5.4" fill="#ff7f00"/>
<circle cx="664.91" cy="467.80" r="10.0" fill="#fff"/><circle cx="664.91" cy="467.80" r="5.4" fill="#ff7f00"/>
<circle cx="669.19" cy="475.20" r="10.0" fill="#fff"/><circle cx="669.19" cy="475.20" r="5.4" fill="#ff7f00"/>
<circle cx="673.46" cy="404.00" r="10.0" fill="#fff"/><circle cx="673.46" cy="404.00" r="5.4" fill="#ff7f00"/>
<circle cx="677.74" cy="392.00" r="10.0" fill="#fff"/><circle cx="677.74" cy="392.00" r="5.4" fill="#ff7f00"/>
<circle cx="682.02" cy="399.60" r="10.0" fill="#fff"/><circle cx="682.02" cy="399.60" r="5.4" fill="#ff7f00"/>
<circle cx="686.30" cy="451.00" r="10.0" fill="#fff"/><circle cx="686.30" cy="451.00" r="5.4" fill="#ff7f00"/>
<circle cx="690.58" cy="451.40" r="10.0" fill="#fff"/><circle cx="690.58" cy="451.40" r="5.4" fill="#ff7f00"/>
<circle cx="694.86" cy="467.80" r="10.0" fill="#fff"/><circle cx="694.86" cy="467.80" r="5.4" fill="#ff7f00"/>
<circle cx="699.14" cy="519.90" r="10.0" fill="#fff"/><circle cx="699.14" cy="519.90" r="5.4" fill="#ff7f00"/>
<circle cx="703.42" cy="453.00" r="10.0" fill="#fff"/><circle cx="703.42" cy="453.00" r="5.4" fill="#ff7f00"/>
<circle cx="707.70" cy="474.00" r="10.0" fill="#fff"/><circle cx="707.70" cy="474.00" r="5.4" fill="#ff7f00"/>
<circle cx="711.98" cy="483.30" r="10.0" fill="#fff"/><circle cx="711.98" cy="483.30" r="5.4" fill="#ff7f00"/>
<circle cx="716.25" cy="477.10" r="10.0" fill="#fff"/><circle cx="716.25" cy="477.10" r="5.4" fill="#ff7f00"/>
<circle cx="720.53" cy="472.40" r="10.0" fill="#fff"/><circle cx="720.53" cy="472.40" r="5.4" fill="#ff7f00"/>
<circle cx="724.81" cy="467.80" r="10.0" fill="#fff"/><circle cx="724.81" cy="467.80" r="5.4" fill="#ff7f00"/>
<circle cx="729.09" cy="504.30" r="10.0" fill="#fff"/><circle cx="729.09" cy="504.30" r="5.4" fill="#ff7f00"/>
<circle cx="733.37" cy="469.30" r="10.0" fill="#fff"/><circle cx="733.37" cy="469.30" r="5.4" fill="#ff7f00"/>
<circle cx="737.65" cy="468.30" r="10.0" fill="#fff"/><circle cx="737.65" cy="468.30" r="5.4" fill="#ff7f00"/>
<circle cx="741.93" cy="480.00" r="10.0" fill="#fff"/><circle cx="741.93" cy="480.00" r="5.4" fill="#ff7f00"/>
<circle cx="746.21" cy="475.80" r="10.0" fill="#fff"/><circle cx="746.21" cy="475.80" r="5.4" fill="#ff7f00"/>
<circle cx="750.49" cy="470.30" r="10.0" fill="#fff"/><circle cx="750.49" cy="470.30" r="5.4" fill="#ff7f00"/>
<circle cx="754.77" cy="492.50" r="10.0" fill="#fff"/><circle cx="754.77" cy="492.50" r="5.4" fill="#ff7f00"/>
<circle cx="759.04" cy="434.20" r="10.0" fill="#fff"/><circle cx="759.04" cy="434.20" r="5.4" fill="#ff7f00"/>
<circle cx="763.32" cy="450.00" r="10.0" fill="#fff"/><circle cx="763.32" cy="450.00" r="5.4" fill="#ff7f00"/>
<circle cx="767.60" cy="462.20" r="10.0" fill="#fff"/><circle cx="767.60" cy="462.20" r="5.4" fill="#ff7f00"/>
<circle cx="771.88" cy="491.30" r="10.0" fill="#fff"/><circle cx="771.88" cy="491.30" r="5.4" fill="#ff7f00"/>
<circle cx="776.16" cy="413.30" r="10.0" fill="#fff"/><circle cx="776.16" cy="413.30" r="5.4" fill="#ff7f00"/>
<circle cx="780.44" cy="397.20" r="10.0" fill="#fff"/><circle cx="780.44" cy="397.20" r="5.4" fill="#ff7f00"/>
<circle cx="784.72" cy="422.50" r="10.0" fill="#fff"/><circle cx="784.72" cy="422.50" r="5.4" fill="#ff7f00"/>
<circle cx="789.00" cy="495.00" r="10.0" fill="#fff"/><circle cx="789.00" cy="495.00" r="5.4" fill="#ff7f00"/>
<circle cx="793.28" cy="451.70" r="10.0" fill="#fff"/><circle cx="793.28" cy="451.70" r="5.4" fill="#ff7f00"/>
<circle cx="797.56" cy="448.30" r="10.0" fill="#fff"/><circle cx="797.56" cy="448.30" r="5.4" fill="#ff7f00"/>
<circle cx="801.83" cy="501.30" r="10.0" fill="#fff"/><circle cx="801.83" cy="501.30" r="5.4" fill="#ff7f00"/>
<circle cx="806.11" cy="470.00" r="10.0" fill="#fff"/><circle cx="806.11" cy="470.00" r="5.4" fill="#ff7f00"/>
<circle cx="810.39" cy="490.00" r="10.0" fill="#fff"/><circle cx="810.39" cy="490.00" r="5.4" fill="#ff7f00"/>
<circle cx="814.67" cy="472.50" r="10.0" fill="#fff"/><circle cx="814.67" cy="472.50" r="5.4" fill="#ff7f00"/>
<circle cx="818.95" cy="497.50" r="10.0" fill="#fff"/><circle cx="818.95" cy="497.50" r="5.4" fill="#ff7f00"/>
<circle cx="823.23" cy="467.40" r="10.0" fill="#fff"/><circle cx="823.23" cy="467.40" r="5.4" fill="#ff7f00"/>
<circle cx="827.51" cy="497.30" r="10.0" fill="#fff"/><circle cx="827.51" cy="497.30" r="5.4" fill="#ff7f00"/>
<circle cx="831.79" cy="455.00" r="10.0" fill="#fff"/><circle cx="831.79" cy="455.00" r="5.4" fill="#ff7f00"/>
<circle cx="836.07" cy="462.00" r="10.0" fill="#fff"/><circle cx="836.07" cy="462.00" r="5.4" fill="#ff7f00"/>
<circle cx="840.35" cy="448.30" r="10.0" fill="#fff"/><circle cx="840.35" cy="448.30" r="5.4" fill="#ff7f00"/>
<circle cx="844.62" cy="465.30" r="10.0" fill="#fff"/><circle cx="844.62" cy="465.30" r="5.4" fill="#ff7f00"/>
<circle cx="848.90" cy="478.70" r="10.0" fill="#fff"/><circle cx="848.90" cy="478.70" r="5.4" fill="#ff7f00"/>
<circle cx="853.18" cy="484.30" r="10.0" fill="#fff"/><circle cx="853.18" cy="484.30" r="5.4" fill="#ff7f00"/>
<circle cx="857.46" cy="450.70" r="10.0" fill="#fff"/><circle cx="857.46" cy="450.70" r="5.4" fill="#ff7f00"/>
<circle cx="861.74" cy="457.90" r="10.0" fill="#fff"/><circle cx="861.74" cy="457.90" r="5.4" fill="#ff7f00"/>
<circle cx="866.02" cy="464.00" r="10.0" fill="#fff"/><circle cx="866.02" cy="464.00" r="5.4" fill="#ff7f00"/>
<circle cx="870.30" cy="477.40" r="10.0" fill="#fff"/><circle cx="870.30" cy="477.40" r="5.4" fill="#ff7f00"/>
<circle cx="874.58" cy="473.70" r="10.0" fill="#fff"/><circle cx="874.58" cy="473.70" r="5.4" fill="#ff7f00"/>
<circle cx="878.86" cy="456.40" r="10.0" fill="#fff"/><circle cx="878.86" cy="456.40" r="5.4" fill="#ff7f00"/>
<circle cx="883.14" cy="477.30" r="10.0" fill="#fff"/><circle cx="883.14" cy="477.30" r="5.4" fill="#ff7f00"/>
<circle cx="887.41" cy="490.40" r="10.0" fill="#fff"/><circle cx="887.41" cy="490.40" r="5.4" fill="#ff7f00"/>
<circle cx="891.69" cy="465.30" r="10.0" fill="#fff"/><circle cx="891.69" cy="465.30" r="5.4" fill="#ff7f00"/>
<circle cx="895.97" cy="473.30" r="10.0" fill="#fff"/><circle cx="895.97" cy="473.30" r="5.4" fill="#ff7f00"/>
<circle cx="900.25" cy="495.30" r="10.0" fill="#fff"/><circle cx="900.25" cy="495.30" r="5.4" fill="#ff7f00"/>
<circle cx="904.53" cy="448.30" r="10.0" fill="#fff"/><circle cx="904.53" cy="448.30" r="5.4" fill="#ff7f00"/>
<circle cx="908.81" cy="481.50" r="10.0" fill="#fff"/><circle cx="908.81" cy="481.50" r="5.4" fill="#ff7f00"/>
<circle cx="913.09" cy="481.30" r="10.0" fill="#fff"/><circle cx="913.09" cy="481.30" r="5.4" fill="#ff7f00"/>
<circle cx="917.37" cy="447.30" r="10.0" fill="#fff"/><circle cx="917.37" cy="447.30" r="5.4" fill="#ff7f00"/>
<circle cx="921.65" cy="435.30" r="10.0" fill="#fff"/><circle cx="921.65" cy="435.30" r="5.4" fill="#ff7f00"/>
<circle cx="925.93" cy="425.30" r="10.0" fill="#fff"/><circle cx="925.93" cy="425.30" r="5.4" fill="#ff7f00"/>
<circle cx="930.20" cy="446.40" r="10.0" fill="#fff"/><circle cx="930.20" cy="446.40" r="5.4" fill="#ff7f00"/>
<circle cx="934.48" cy="468.70" r="10.0" fill="#fff"/><circle cx="934.48" cy="468.70" r="5.4" fill="#ff7f00"/>
<circle cx="938.76" cy="514.00" r="10.0" fill="#fff"/><circle cx="938.76" cy="514.00" r="5.4" fill="#ff7f00"/>
<circle cx="943.04" cy="464.00" r="10.0" fill="#fff"/><circle cx="943.04" cy="464.00" r="5.4" fill="#ff7f00"/>
<circle cx="947.32" cy="477.30" r="10.0" fill="#fff"/><circle cx="947.32" cy="477.30" r="5.4" fill="#ff7f00"/>
<circle cx="951.60" cy="493.30" r="10.0" fill="#fff"/><circle cx="951.60" cy="493.30" r="5.4" fill="#ff7f00"/>
<circle cx="955.88" cy="462.40" r="10.0" fill="#fff"/><circle cx="955.88" cy="462.40" r="5.4" fill="#ff7f00"/>
<circle cx="960.16" cy="491.30" r="10.0" fill="#fff"/><circle cx="960.16" cy="491.30" r="5.4" fill="#ff7f00"/>
<circle cx="964.44" cy="830.60" r="10.0" fill="#fff"/><circle cx="964.44" cy="830.60" r="5.4" fill="#ff7f00"/>
<circle cx="968.72" cy="832.00" r="10.0" fill="#fff"/><circle cx="968.72" cy="832.00" r="5.4" fill="#ff7f00"/>
<circle cx="972.99" cy="832.00" r="10.0" fill="#fff"/><circle cx="972.99" cy="832.00" r="5.4" fill="#ff7f00"/>
<circle cx="977.27" cy="832.00" r="10.0" fill="#fff"/><circle cx="977.27" cy="832.00" r="5.4" fill="#ff7f00"/>
<circle cx="981.55" cy="832.00" r="10.0" fill="#fff"/><circle cx="981.55" cy="832.00" r="5.4" fill="#ff7f00"/>
<circle cx="985.83" cy="832.00" r="10.0" fill="#fff"/><circle cx="985.83" cy="832.00" r="5.4" fill="#ff7f00"/>
<circle cx="990.11" cy="832.00" r="10.0" fill="#fff"/><circle cx="990.11" cy="832.00" r="5.4" fill="#ff7f00"/>
<circle cx="994.39" cy="832.60" r="10.0" fill="#fff"/><circle cx="994.39" cy="832.60" r="5.4" fill="#ff7f00"/>
<path d="M95.80 838.40 L100.08 838.40 L104.36 838.40 L108.64 838.40 L112.92 838.40 L117.19 838.40 L121.47 838.40 L125.75 838.40 L130.03 838.40 L134.31 838.40 L138.59 838.40 L142.87 838.40 L147.15 838.40 L151.43 838.40 L155.71 838.40 L159.99 838.40 L164.26 838.40 L168.54 838.40 L172.82 838.40 L177.10 838.40 L181.38 838.40 L185.66 838.40 L189.94 838.40 L194.22 838.40 L198.50 838.40 L202.77 838.40 L207.05 838.40 L211.33 838.40 L215.61 838.40 L219.89 838.40 L224.17 838.40 L228.45 838.40 L232.73 838.40 L237.01 838.40 L241.29 838.40 L245.56 838.40 L249.84 838.40 L254.12 838.40 L258.40 838.40 L262.68 838.40 L266.96 838.40 L271.24 838.40 L275.52 838.40 L279.80 838.40 L284.08 838.40 L288.36 838.40 L292.63 838.40 L296.91 838.40 L301.19 838.40 L305.47 838.40 L309.75 838.40 L314.03 838.40 L318.31 838.40 L322.59 838.40 L326.87 838.40 L331.14 838.40 L335.42 838.40 L339.70 838.40 L343.98 838.40 L348.26 838.40 L352.54 838.40 L356.82 838.40 L361.10 838.40 L365.38 838.40 L369.66 838.40 L373.94 838.40 L378.21 838.40 L382.49 838.40 L386.77 838.40 L391.05 838.40 L395.33 838.40 L399.61 838.40 L403.89 838.40 L408.17 838.40 L412.45 838.40 L416.73 838.40 L421.00 838.40 L425.28 838.40 L429.56 838.40 L433.84 838.40 L438.12 838.40 L442.40 838.40 L446.68 838.40 L450.96 838.40 L455.24 838.40 L459.51 838.40 L463.79 838.40 L468.07 838.40 L472.35 838.40 L476.63 838.40 L480.91 838.40 L485.19 838.40 L489.47 838.40 L493.75 838.40 L498.03 838.40 L502.31 838.40 L506.58 838.40 L510.86 838.40 L515.14 838.40 L519.42 838.40 L523.70 838.40 L527.98 838.40 L532.26 838.40 L536.54 838.40 L540.82 838.40 L545.10 838.40 L549.37 838.40 L553.65 838.40 L557.93 838.40 L562.21 838.40 L566.49 838.40 L570.77 838.40 L575.05 838.40 L579.33 838.40 L583.61 838.40 L587.88 838.40 L592.16 838.40 L596.44 838.40 L600.72 838.40 L605.00 838.40 L609.28 838.40 L613.56 838.40 L617.84 838.40 L622.12 838.40 L626.40 838.40 L630.67 838.40 L634.95 838.40 L639.23 838.40 L643.51 838.40 L647.79 838.40 L652.07 838.40 L656.35 838.40 L660.63 838.40 L664.91 838.40 L669.19 838.40 L673.46 838.40 L677.74 838.40 L682.02 838.40 L686.30 838.40 L690.58 838.40 L694.86 838.40 L699.14 838.40 L703.42 838.40 L707.70 838.40 L711.98 838.40 L716.25 838.40 L720.53 838.40 L724.81 838.40 L729.09 838.40 L733.37 838.40 L737.65 838.40 L741.93 838.40 L746.21 838.40 L750.49 838.40 L754.77 838.40 L759.04 838.40 L763.32 838.40 L767.60 838.40 L771.88 838.40 L776.16 838.40 L780.44 838.40 L784.72 838.40 L789.00 838.40 L793.28 838.40 L797.56 838.40 L801.83 838.40 L806.11 838.40 L810.39 838.40 L814.67 838.40 L818.95 838.40 L823.23 838.40 L827.51 838.40 L831.79 838.40 L836.07 838.40 L840.35 838.40 L844.62 838.40 L848.90 838.40 L853.18 838.40 L857.46 838.40 L861.74 838.40 L866.02 838.40 L870.30 838.40 L874.58 838.40 L878.86 838.40 L883.14 838.40 L887.41 838.40 L891.69 838.40 L895.97 838.40 L900.25 838.40 L904.53 838.40 L908.81 838.40 L913.09 838.40 L917.37 838.40 L921.65 838.40 L925.93 838.40 L930.20 838.40 L934.48 838.40 L938.76 838.40 L943.04 838.40 L947.32 838.40 L951.60 838.40 L955.88 838.40 L960.16 838.40 L964.44 838.40 L968.72 838.40 L972.99 838.40 L977.27 838.40 L981.55 838.40 L985.83 838.40 L990.11 838.40 L994.39 838.40" stroke="#2ca02c" stroke-width="2.0" fill="none" stroke-linejoin="round"/>
<circle cx="95.80" cy="838.40" r="10.0" fill="#fff"/><circle cx="95.80" cy="838.40" r="5.4" fill="#2ca02c"/>
<circle cx="100.08" cy="838.40" r="10.0" fill="#fff"/><circle cx="100.08" cy="838.40" r="5.4" fill="#2ca02c"/>
<circle cx="104.36" cy="838.40" r="10.0" fill="#fff"/><circle cx="104.36" cy="838.40" r="5.4" fill="#2ca02c"/>
<circle cx="108.64" cy="838.40" r="10.0" fill="#fff"/><circle cx="108.64" cy="838.40" r="5.4" fill="#2ca02c"/>
<circle cx="112.92" cy="838.40" r="10.0" fill="#fff"/><circle cx="112.92" cy="838.40" r="5.4" fill="#2ca02c"/>
<circle cx="117.19" cy="838.40" r="10.0" fill="#fff"/><circle cx="117.19" cy="838.40" r="5.4" fill="#2ca02c"/>
<circle cx="121.47" cy="838.40" r="10.0" fill="#fff"/><circle cx="121.47" cy="838.40" r="5.4" fill="#2ca02c"/>
<circle cx="125.75" cy="838.40" r="10.0" fill="#fff"/><circle cx="125.75" cy="838.40" r="5.4" fill="#2ca02c"/>
<circle cx="130.03" cy="838.40" r="10.0" fill="#fff"/><circle cx="130.03" cy="838.40" r="5.4" fill="#2ca02c"/>
<circle cx="134.31" cy="838.40" r="10.0" fill="#fff"/><circle cx="134.31" cy="838.40" r="5.4" fill="#2ca02c"/>
<circle cx="138.59" cy="838.40" r="10.0" fill="#fff"/><circle cx="138.59" cy="838.40" r="5.4" fill="#2ca02c"/>
<circle cx="142.87" cy="838.40" r="10.0" fill="#fff"/><circle cx="142.87" cy="838.40" r="5.4" fill="#2ca02c"/>
<circle cx="147.15" cy="838.40" r="10.0" fill="#fff"/><circle cx="147.15" cy="838.40" r="5.4" fill="#2ca02c"/>
<circle cx="151.43" cy="838.40" r="10.0" fill="#fff"/><circle cx="151.43" cy="838.40" r="5.4" fill="#2ca02c"/>
<circle cx="155.71" cy="838.40" r="10.0" fill="#fff"/><circle cx="155.71" cy="838.40" r="5.4" fill="#2ca02c"/>
<circle cx="159.99" cy="838.40" r="10.0" fill="#fff"/><circle cx="159.99" cy="838.40" r="5.4" fill="#2ca02c"/>
<circle cx="164.26" cy="838.40" r="10.0" fill="#fff"/><circle cx="164.26" cy="838.40" r="5.4" fill="#2ca02c"/>
<circle cx="168.54" cy="838.40" r="10.0" fill="#fff"/><circle cx="168.54" cy="838.40" r="5.4" fill="#2ca02c"/>
<circle cx="172.82" cy="838.40" r="10.0" fill="#fff"/><circle cx="172.82" cy="838.40" r="5.4" fill="#2ca02c"/>
<circle cx="177.10" cy="838.40" r="10.0" fill="#fff"/><circle cx="177.10" cy="838.40" r="5.4" fill="#2ca02c"/>
<circle cx="181.38" cy="838.40" r="10.0" fill="#fff"/><circle cx="181.38" cy="838.40" r="5.4" fill="#2ca02c"/>
<circle cx="185.66" cy="838.40" r="10.0" fill="#fff"/><circle cx="185.66" cy="838.40" r="5.4" fill="#2ca02c"/>
<circle cx="189.94" cy="838.40" r="10.0" fill="#fff"/><circle cx="189.94" cy="838.40" r="5.4" fill="#2ca02c"/>
<circle cx="194.22" cy="838.40" r="10.0" fill="#fff"/><circle cx="194.22" cy="838.40" r="5.4" fill="#2ca02c"/>
<circle cx="198.50" cy="838.40" r="10.0" fill="#fff"/><circle cx="198.50" cy="838.40" r="5.4" fill="#2ca02c"/>
<circle cx="202.77" cy="838.40" r="10.0" fill="#fff"/><circle cx="202.77" cy="838.40" r="5.4" fill="#2ca02c"/>
<circle cx="207.05" cy="838.40" r="10.0" fill="#fff"/><circle cx="207.05" cy="838.40" r="5.4" fill="#2ca02c"/>
<circle cx="211.33" cy="838.40" r="10.0" fill="#fff"/><circle cx="211.33" cy="838.40" r="5.4" fill="#2ca02c"/>
<circle cx="215.61" cy="838.40" r="10.0" fill="#fff"/><circle cx="215.61" cy="838.40" r="5.4" fill="#2ca02c"/>
<circle cx="219.89" cy="838.40" r="10.0" fill="#fff"/><circle cx="219.89" cy="838.40" r="5.4" fill="#2ca02c"/>
<circle cx="224.17" cy="838.40" r="10.0" fill="#fff"/><circle cx="224.17" cy="838.40" r="5.4" fill="#2ca02c"/>
<circle cx="228.45" cy="838.40" r="10.0" fill="#fff"/><circle cx="228.45" cy="838.40" r="5.4" fill="#2ca02c"/>
<circle cx="232.73" cy="838.40" r="10.0" fill="#fff"/><circle cx="232.73" cy="838.40" r="5.4" fill="#2ca02c"/>
<circle cx="237.01" cy="838.40" r="10.0" fill="#fff"/><circle cx="237.01" cy="838.40" r="5.4" fill="#2ca02c"/>
<circle cx="241.29" cy="838.40" r="10.0" fill="#fff"/><circle cx="241.29" cy="838.40" r="5.4" fill="#2ca02c"/>
<circle cx="245.56" cy="838.40" r="10.0" fill="#fff"/><circle cx="245.56" cy="838.40" r="5.4" fill="#2ca02c"/>
<circle cx="249.84" cy="838.40" r="10.0" fill="#fff"/><circle cx="249.84" cy="838.40" r="5.4" fill="#2ca02c"/>
<circle cx="254.12" cy="838.40" r="10.0" fill="#fff"/><circle cx="254.12" cy="838.40" r="5.4" fill="#2ca02c"/>
<circle cx="258.40" cy="838.40" r="10.0" fill="#fff"/><circle cx="258.40" cy="838.40" r="5.4" fill="#2ca02c"/>
<circle cx="262.68" cy="838.40" r="10.0" fill="#fff"/><circle cx="262.68" cy="838.40" r="5.4" fill="#2ca02c"/>
<circle cx="266.96" cy="838.40" r="10.0" fill="#fff"/><circle cx="266.96" cy="838.40" r="5.4" fill="#2ca02c"/>
<circle cx="271.24" cy="838.40" r="10.0" fill="#fff"/><circle cx="271.24" cy="838.40" r="5.4" fill="#2ca02c"/>
<circle cx="275.52" cy="838.40" r="10.0" fill="#fff"/><circle cx="275.52" cy="838.40" r="5.4" fill="#2ca02c"/>
<circle cx="279.80" cy="838.40" r="10.0" fill="#fff"/><circle cx="279.80" cy="838.40" r="5.4" fill="#2ca02c"/>
<circle cx="284.08" cy="838.40" r="10.0" fill="#fff"/><circle cx="284.08" cy="838.40" r="5.4" fill="#2ca02c"/>
<circle cx="288.36" cy="838.40" r="10.0" fill="#fff"/><circle cx="288.36" cy="838.40" r="5.4" fill="#2ca02c"/>
<circle cx="292.63" cy="838.40" r="10.0" fill="#fff"/><circle cx="292.63" cy="838.40" r="5.4" fill="#2ca02c"/>
<circle cx="296.91" cy="838.40" r="10.0" fill="#fff"/><circle cx="296.91" cy="838.40" r="5.4" fill="#2ca02c"/>
<circle cx="301.19" cy="838.40" r="10.0" fill="#fff"/><circle cx="301.19" cy="838.40" r="5.4" fill="#2ca02c"/>
<circle cx="305.47" cy="838.40" r="10.0" fill="#fff"/><circle cx="305.47" cy="838.40" r="5.4" fill="#2ca02c"/>
<circle cx="309.75" cy="838.40" r="10.0" fill="#fff"/><circle cx="309.75" cy="838.40" r="5.4" fill="#2ca02c"/>
<circle cx="314.03" cy="838.40" r="10.0" fill="#fff"/><circle cx="314.03" cy="838.40" r="5.4" fill="#2ca02c"/>
<circle cx="318.31" cy="838.40" r="10.0" fill="#fff"/><circle cx="318.31" cy="838.40" r="5.4" fill="#2ca02c"/>
<circle cx="322.59" cy="838.40" r="10.0" fill="#fff"/><circle cx="322.59" cy="838.40" r="5.4" fill="#2ca02c"/>
<circle cx="326.87" cy="838.40" r="10.0" fill="#fff"/><circle cx="326.87" cy="838.40" r="5.4" fill="#2ca02c"/>
<circle cx="331.14" cy="838.40" r="10.0" fill="#fff"/><circle cx="331.14" cy="838.40" r="5.4" fill="#2ca02c"/>
<circle cx="335.42" cy="838.40" r="10.0" fill="#fff"/><circle cx="335.42" cy="838.40" r="5.4" fill="#2ca02c"/>
<circle cx="339.70" cy="838.40" r="10.0" fill="#fff"/><circle cx="339.70" cy="838.40" r="5.4" fill="#2ca02c"/>
<circle cx="343.98" cy="838.40" r="10.0" fill="#fff"/><circle cx="343.98" cy="838.40" r="5.4" fill="#2ca02c"/>
<circle cx="348.26" cy="838.40" r="10.0" fill="#fff"/><circle cx="348.26" cy="838.40" r="5.4" fill="#2ca02c"/>
<circle cx="352.54" cy="838.40" r="10.0" fill="#fff"/><circle cx="352.54" cy="838.40" r="5.4" fill="#2ca02c"/>
<circle cx="356.82" cy="838.40" r="10.0" fill="#fff"/><circle cx="356.82" cy="838.40" r="5.4" fill="#2ca02c"/>
<circle cx="361.10" cy="838.40" r="10.0" fill="#fff"/><circle cx="361.10" cy="838.40" r="5.4" fill="#2ca02c"/>
<circle cx="365.38" cy="838.40" r="10.0" fill="#fff"/><circle cx="365.38" cy="838.40" r="5.4" fill="#2ca02c"/>
<circle cx="369.66" cy="838.40" r="10.0" fill="#fff"/><circle cx="369.66" cy="838.40" r="5.4" fill="#2ca02c"/>
<circle cx="373.94" cy="838.40" r="10.0" fill="#fff"/><circle cx="373.94" cy="838.40" r="5.4" fill="#2ca02c"/>
<circle cx="378.21" cy="838.40" r="10.0" fill="#fff"/><circle cx="378.21" cy="838.40" r="5.4" fill="#2ca02c"/>
<circle cx="382.49" cy="838.40" r="10.0" fill="#fff"/><circle cx="382.49" cy="838.40" r="5.4" fill="#2ca02c"/>
<circle cx="386.77" cy="838.40" r="10.0" fill="#fff"/><circle cx="386.77" cy="838.40" r="5.4" fill="#2ca02c"/>
<circle cx="391.05" cy="838.40" r="10.0" fill="#fff"/><circle cx="391.05" cy="838.40" r="5.4" fill="#2ca02c"/>
<circle cx="395.33" cy="838.40" r="10.0" fill="#fff"/><circle cx="395.33" cy="838.40" r="5.4" fill="#2ca02c"/>
<circle cx="399.61" cy="838.40" r="10.0" fill="#fff"/><circle cx="399.61" cy="838.40" r="5.4" fill="#2ca02c"/>
<circle cx="403.89" cy="838.40" r="10.0" fill="#fff"/><circle cx="403.89" cy="838.40" r="5.4" fill="#2ca02c"/>
<circle cx="408.17" cy="838.40" r="10.0" fill="#fff"/><circle cx="408.17" cy="838.40" r="5.4" fill="#2ca02c"/>
<circle cx="412.45" cy="838.40" r="10.0" fill="#fff"/><circle cx="412.45" cy="838.40" r="5.4" fill="#2ca02c"/>
<circle cx="416.73" cy="838.40" r="10.0" fill="#fff"/><circle cx="416.73" cy="838.40" r="5.4" fill="#2ca02c"/>
<circle cx="421.00" cy="838.40" r="10.0" fill="#fff"/><circle cx="421.00" cy="838.40" r="5.4" fill="#2ca02c"/>
<circle cx="425.28" cy="838.40" r="10.0" fill="#fff"/><circle cx="425.28" cy="838.40" r="5.4" fill="#2ca02c"/>
<circle cx="429.56" cy="838.40" r="10.0" fill="#fff"/><circle cx="429.56" cy="838.40" r="5.4" fill="#2ca02c"/>
<circle cx="433.84" cy="838.40" r="10.0" fill="#fff"/><circle cx="433.84" cy="838.40" r="5.4" fill="#2ca02c"/>
<circle cx="438.12" cy="838.40" r="10.0" fill="#fff"/><circle cx="438.12" cy="838.40" r="5.4" fill="#2ca02c"/>
<circle cx="442.40" cy="838.40" r="10.0" fill="#fff"/><circle cx="442.40" cy="838.40" r="5.4" fill="#2ca02c"/>
<circle cx="446.68" cy="838.40" r="10.0" fill="#fff"/><circle cx="446.68" cy="838.40" r="5.4" fill="#2ca02c"/>
<circle cx="450.96" cy="838.40" r="10.0" fill="#fff"/><circle cx="450.96" cy="838.40" r="5.4" fill="#2ca02c"/>
<circle cx="455.24" cy="838.40" r="10.0" fill="#fff"/><circle cx="455.24" cy="838.40" r="5.4" fill="#2ca02c"/>
<circle cx="459.51" cy="838.40" r="10.0" fill="#fff"/><circle cx="459.51" cy="838.40" r="5.4" fill="#2ca02c"/>
<circle cx="463.79" cy="838.40" r="10.0" fill="#fff"/><circle cx="463.79" cy="838.40" r="5.4" fill="#2ca02c"/>
<circle cx="468.07" cy="838.40" r="10.0" fill="#fff"/><circle cx="468.07" cy="838.40" r="5.4" fill="#2ca02c"/>
<circle cx="472.35" cy="838.40" r="10.0" fill="#fff"/><circle cx="472.35" cy="838.40" r="5.4" fill="#2ca02c"/>
<circle cx="476.63" cy="838.40" r="10.0" fill="#fff"/><circle cx="476.63" cy="838.40" r="5.4" fill="#2ca02c"/>
<circle cx="480.91" cy="838.40" r="10.0" fill="#fff"/><circle cx="480.91" cy="838.40" r="5.4" fill="#2ca02c"/>
<circle cx="485.19" cy="838.40" r="10.0" fill="#fff"/><circle cx="485.19" cy="838.40" r="5.4" fill="#2ca02c"/>
<circle cx="489.47" cy="838.40" r="10.0" fill="#fff"/><circle cx="489.47" cy="838.40" r="5.4" fill="#2ca02c"/>
<circle cx="493.75" cy="838.40" r="10.0" fill="#fff"/><circle cx="493.75" cy="838.40" r="5.4" fill="#2ca02c"/>
<circle cx="498.03" cy="838.40" r="10.0" fill="#fff"/><circle cx="498.03" cy="838.40" r="5.4" fill="#2ca02c"/>
<circle cx="502.31" cy="838.40" r="10.0" fill="#fff"/><circle cx="502.31" cy="838.40" r="5.4" fill="#2ca02c"/>
<circle cx="506.58" cy="838.40" r="10.0" fill="#fff"/><circle cx="506.58" cy="838.40" r="5.4" fill="#2ca02c"/>
<circle cx="510.86" cy="838.40" r="10.0" fill="#fff"/><circle cx="510.86" cy="838.40" r="5.4" fill="#2ca02c"/>
<circle cx="515.14" cy="838.40" r="10.0" fill="#fff"/><circle cx="515.14" cy="838.40" r="5.4" fill="#2ca02c"/>
<circle cx="519.42" cy="838.40" r="10.0" fill="#fff"/><circle cx="519.42" cy="838.40" r="5.4" fill="#2ca02c"/>
<circle cx="523.70" cy="838.40" r="10.0" fill="#fff"/><circle cx="523.70" cy="838.40" r="5.4" fill="#2ca02c"/>
<circle cx="527.98" cy="838.40" r="10.0" fill="#fff"/><circle cx="527.98" cy="838.40" r="5.4" fill="#2ca02c"/>
<circle cx="532.26" cy="838.40" r="10.0" fill="#fff"/><circle cx="532.26" cy="838.40" r="5.4" fill="#2ca02c"/>
<circle cx="536.54" cy="838.40" r="10.0" fill="#fff"/><circle cx="536.54" cy="838.40" r="5.4" fill="#2ca02c"/>
<circle cx="540.82" cy="838.40" r="10.0" fill="#fff"/><circle cx="540.82" cy="838.40" r="5.4" fill="#2ca02c"/>
<circle cx="545.10" cy="838.40" r="10.0" fill="#fff"/><circle cx="545.10" cy="838.40" r="5.4" fill="#2ca02c"/>
<circle cx="549.37" cy="838.40" r="10.0" fill="#fff"/><circle cx="549.37" cy="838.40" r="5.4" fill="#2ca02c"/>
<circle cx="553.65" cy="838.40" r="10.0" fill="#fff"/><circle cx="553.65" cy="838.40" r="5.4" fill="#2ca02c"/>
<circle cx="557.93" cy="838.40" r="10.0" fill="#fff"/><circle cx="557.93" cy="838.40" r="5.4" fill="#2ca02c"/>
<circle cx="562.21" cy="838.40" r="10.0" fill="#fff"/><circle cx="562.21" cy="838.40" r="5.4" fill="#2ca02c"/>
<circle cx="566.49" cy="838.40" r="10.0" fill="#fff"/><circle cx="566.49" cy="838.40" r="5.4" fill="#2ca02c"/>
<circle cx="570.77" cy="838.40" r="10.0" fill="#fff"/><circle cx="570.77" cy="838.40" r="5.4" fill="#2ca02c"/>
<circle cx="575.05" cy="838.40" r="10.0" fill="#fff"/><circle cx="575.05" cy="838.40" r="5.4" fill="#2ca02c"/>
<circle cx="579.33" cy="838.40" r="10.0" fill="#fff"/><circle cx="579.33" cy="838.40" r="5.4" fill="#2ca02c"/>
<circle cx="583.61" cy="838.40" r="10.0" fill="#fff"/><circle cx="583.61" cy="838.40" r="5.4" fill="#2ca02c"/>
<circle cx="587.88" cy="838.40" r="10.0" fill="#fff"/><circle cx="587.88" cy="838.40" r="5.4" fill="#2ca02c"/>
<circle cx="592.16" cy="838.40" r="10.0" fill="#fff"/><circle cx="592.16" cy="838.40" r="5.4" fill="#2ca02c"/>
<circle cx="596.44" cy="838.40" r="10.0" fill="#fff"/><circle cx="596.44" cy="838.40" r="5.4" fill="#2ca02c"/>
<circle cx="600.72" cy="838.40" r="10.0" fill="#fff"/><circle cx="600.72" cy="838.40" r="5.4" fill="#2ca02c"/>
<circle cx="605.00" cy="838.40" r="10.0" fill="#fff"/><circle cx="605.00" cy="838.40" r="5.4" fill="#2ca02c"/>
<circle cx="609.28" cy="838.40" r="10.0" fill="#fff"/><circle cx="609.28" cy="838.40" r="5.4" fill="#2ca02c"/>
<circle cx="613.56" cy="838.40" r="10.0" fill="#fff"/><circle cx="613.56" cy="838.40" r="5.4" fill="#2ca02c"/>
<circle cx="617.84" cy="838.40" r="10.0" fill="#fff"/><circle cx="617.84" cy="838.40" r="5.4" fill="#2ca02c"/>
<circle cx="622.12" cy="838.40" r="10.0" fill="#fff"/><circle cx="622.12" cy="838.40" r="5.4" fill="#2ca02c"/>
<circle cx="626.40" cy="838.40" r="10.0" fill="#fff"/><circle cx="626.40" cy="838.40" r="5.4" fill="#2ca02c"/>
<circle cx="630.67" cy="838.40" r="10.0" fill="#fff"/><circle cx="630.67" cy="838.40" r="5.4" fill="#2ca02c"/>
<circle cx="634.95" cy="838.40" r="10.0" fill="#fff"/><circle cx="634.95" cy="838.40" r="5.4" fill="#2ca02c"/>
<circle cx="639.23" cy="838.40" r="10.0" fill="#fff"/><circle cx="639.23" cy="838.40" r="5.4" fill="#2ca02c"/>
<circle cx="643.51" cy="838.40" r="10.0" fill="#fff"/><circle cx="643.51" cy="838.40" r="5.4" fill="#2ca02c"/>
<circle cx="647.79" cy="838.40" r="10.0" fill="#fff"/><circle cx="647.79" cy="838.40" r="5.4" fill="#2ca02c"/>
<circle cx="652.07" cy="838.40" r="10.0" fill="#fff"/><circle cx="652.07" cy="838.40" r="5.4" fill="#2ca02c"/>
<circle cx="656.35" cy="838.40" r="10.0" fill="#fff"/><circle cx="656.35" cy="838.40" r="5.4" fill="#2ca02c"/>
<circle cx="660.63" cy="838.40" r="10.0" fill="#fff"/><circle cx="660.63" cy="838.40" r="5.4" fill="#2ca02c"/>
<circle cx="664.91" cy="838.40" r="10.0" fill="#fff"/><circle cx="664.91" cy="838.40" r="5.4" fill="#2ca02c"/>
<circle cx="669.19" cy="838.40" r="10.0" fill="#fff"/><circle cx="669.19" cy="838.40" r="5.4" fill="#2ca02c"/>
<circle cx="673.46" cy="838.40" r="10.0" fill="#fff"/><circle cx="673.46" cy="838.40" r="5.4" fill="#2ca02c"/>
<circle cx="677.74" cy="838.40" r="10.0" fill="#fff"/><circle cx="677.74" cy="838.40" r="5.4" fill="#2ca02c"/>
<circle cx="682.02" cy="838.40" r="10.0" fill="#fff"/><circle cx="682.02" cy="838.40" r="5.4" fill="#2ca02c"/>
<circle cx="686.30" cy="838.40" r="10.0" fill="#fff"/><circle cx="686.30" cy="838.40" r="5.4" fill="#2ca02c"/>
<circle cx="690.58" cy="838.40" r="10.0" fill="#fff"/><circle cx="690.58" cy="838.40" r="5.4" fill="#2ca02c"/>
<circle cx="694.86" cy="838.40" r="10.0" fill="#fff"/><circle cx="694.86" cy="838.40" r="5.4" fill="#2ca02c"/>
<circle cx="699.14" cy="838.40" r="10.0" fill="#fff"/><circle cx="699.14" cy="838.40" r="5.4" fill="#2ca02c"/>
<circle cx="703.42" cy="838.40" r="10.0" fill="#fff"/><circle cx="703.42" cy="838.40" r="5.4" fill="#2ca02c"/>
<circle cx="707.70" cy="838.40" r="10.0" fill="#fff"/><circle cx="707.70" cy="838.40" r="5.4" fill="#2ca02c"/>
<circle cx="711.98" cy="838.40" r="10.0" fill="#fff"/><circle cx="711.98" cy="838.40" r="5.4" fill="#2ca02c"/>
<circle cx="716.25" cy="838.40" r="10.0" fill="#fff"/><circle cx="716.25" cy="838.40" r="5.4" fill="#2ca02c"/>
<circle cx="720.53" cy="838.40" r="10.0" fill="#fff"/><circle cx="720.53" cy="838.40" r="5.4" fill="#2ca02c"/>
<circle cx="724.81" cy="838.40" r="10.0" fill="#fff"/><circle cx="724.81" cy="838.40" r="5.4" fill="#2ca02c"/>
<circle cx="729.09" cy="838.40" r="10.0" fill="#fff"/><circle cx="729.09" cy="838.40" r="5.4" fill="#2ca02c"/>
<circle cx="733.37" cy="838.40" r="10.0" fill="#fff"/><circle cx="733.37" cy="838.40" r="5.4" fill="#2ca02c"/>
<circle cx="737.65" cy="838.40" r="10.0" fill="#fff"/><circle cx="737.65" cy="838.40" r="5.4" fill="#2ca02c"/>
<circle cx="741.93" cy="838.40" r="10.0" fill="#fff"/><circle cx="741.93" cy="838.40" r="5.4" fill="#2ca02c"/>
<circle cx="746.21" cy="838.40" r="10.0" fill="#fff"/><circle cx="746.21" cy="838.40" r="5.4" fill="#2ca02c"/>
<circle cx="750.49" cy="838.40" r="10.0" fill="#fff"/><circle cx="750.49" cy="838.40" r="5.4" fill="#2ca02c"/>
<circle cx="754.77" cy="838.40" r="10.0" fill="#fff"/><circle cx="754.77" cy="838.40" r="5.4" fill="#2ca02c"/>
<circle cx="759.04" cy="838.40" r="10.0" fill="#fff"/><circle cx="759.04" cy="838.40" r="5.4" fill="#2ca02c"/>
<circle cx="763.32" cy="838.40" r="10.0" fill="#fff"/><circle cx="763.32" cy="838.40" r="5.4" fill="#2ca02c"/>
<circle cx="767.60" cy="838.40" r="10.0" fill="#fff"/><circle cx="767.60" cy="838.40" r="5.4" fill="#2ca02c"/>
<circle cx="771.88" cy="838.40" r="10.0" fill="#fff"/><circle cx="771.88" cy="838.40" r="5.4" fill="#2ca02c"/>
<circle cx="776.16" cy="838.40" r="10.0" fill="#fff"/><circle cx="776.16" cy="838.40" r="5.4" fill="#2ca02c"/>
<circle cx="780.44" cy="838.40" r="10.0" fill="#fff"/><circle cx="780.44" cy="838.40" r="5.4" fill="#2ca02c"/>
<circle cx="784.72" cy="838.40" r="10.0" fill="#fff"/><circle cx="784.72" cy="838.40" r="5.4" fill="#2ca02c"/>
<circle cx="789.00" cy="838.40" r="10.0" fill="#fff"/><circle cx="789.00" cy="838.40" r="5.4" fill="#2ca02c"/>
<circle cx="793.28" cy="838.40" r="10.0" fill="#fff"/><circle cx="793.28" cy="838.40" r="5.4" fill="#2ca02c"/>
<circle cx="797.56" cy="838.40" r="10.0" fill="#fff"/><circle cx="797.56" cy="838.40" r="5.4" fill="#2ca02c"/>
<circle cx="801.83" cy="838.40" r="10.0" fill="#fff"/><circle cx="801.83" cy="838.40" r="5.4" fill="#2ca02c"/>
<circle cx="806.11" cy="838.40" r="10.0" fill="#fff"/><circle cx="806.11" cy="838.40" r="5.4" fill="#2ca02c"/>
<circle cx="810.39" cy="838.40" r="10.0" fill="#fff"/><circle cx="810.39" cy="838.40" r="5.4" fill="#2ca02c"/>
<circle cx="814.67" cy="838.40" r="10.0" fill="#fff"/><circle cx="814.67" cy="838.40" r="5.4" fill="#2ca02c"/>
<circle cx="818.95" cy="838.40" r="10.0" fill="#fff"/><circle cx="818.95" cy="838.40" r="5.4" fill="#2ca02c"/>
<circle cx="823.23" cy="838.40" r="10.0" fill="#fff"/><circle cx="823.23" cy="838.40" r="5.4" fill="#2ca02c"/>
<circle cx="827.51" cy="838.40" r="10.0" fill="#fff"/><circle cx="827.51" cy="838.40" r="5.4" fill="#2ca02c"/>
<circle cx="831.79" cy="838.40" r="10.0" fill="#fff"/><circle cx="831.79" cy="838.40" r="5.4" fill="#2ca02c"/>
<circle cx="836.07" cy="838.40" r="10.0" fill="#fff"/><circle cx="836.07" cy="838.40" r="5.4" fill="#2ca02c"/>
<circle cx="840.35" cy="838.40" r="10.0" fill="#fff"/><circle cx="840.35" cy="838.40" r="5.4" fill="#2ca02c"/>
<circle cx="844.62" cy="838.40" r="10.0" fill="#fff"/><circle cx="844.62" cy="838.40" r="5.4" fill="#2ca02c"/>
<circle cx="848.90" cy="838.40" r="10.0" fill="#fff"/><circle cx="848.90" cy="838.40" r="5.4" fill="#2ca02c"/>
<circle cx="853.18" cy="838.40" r="10.0" fill="#fff"/><circle cx="853.18" cy="838.40" r="5.4" fill="#2ca02c"/>
<circle cx="857.46" cy="838.40" r="10.0" fill="#fff"/><circle cx="857.46" cy="838.40" r="5.4" fill="#2ca02c"/>
<circle cx="861.74" cy="838.40" r="10.0" fill="#fff"/><circle cx="861.74" cy="838.40" r="5.4" fill="#2ca02c"/>
<circle cx="866.02" cy="838.40" r="10.0" fill="#fff"/><circle cx="866.02" cy="838.40" r="5.4" fill="#2ca02c"/>
<circle cx="870.30" cy="838.40" r="10.0" fill="#fff"/><circle cx="870.30" cy="838.40" r="5.4" fill="#2ca02c"/>
<circle cx="874.58" cy="838.40" r="10.0" fill="#fff"/><circle cx="874.58" cy="838.40" r="5.4" fill="#2ca02c"/>
<circle cx="878.86" cy="838.40" r="10.0" fill="#fff"/><circle cx="878.86" cy="838.40" r="5.4" fill="#2ca02c"/>
<circle cx="883.14" cy="838.40" r="10.0" fill="#fff"/><circle cx="883.14" cy="838.40" r="5.4" fill="#2ca02c"/>
<circle cx="887.41" cy="838.40" r="10.0" fill="#fff"/><circle cx="887.41" cy="838.40" r="5.4" fill="#2ca02c"/>
<circle cx="891.69" cy="838.40" r="10.0" fill="#fff"/><circle cx="891.69" cy="838.40" r="5.4" fill="#2ca02c"/>
<circle cx="895.97" cy="838.40" r="10.0" fill="#fff"/><circle cx="895.97" cy="838.40" r="5.4" fill="#2ca02c"/>
<circle cx="900.25" cy="838.40" r="10.0" fill="#fff"/><circle cx="900.25" cy="838.40" r="5.4" fill="#2ca02c"/>
<circle cx="904.53" cy="838.40" r="10.0" fill="#fff"/><circle cx="904.53" cy="838.40" r="5.4" fill="#2ca02c"/>
<circle cx="908.81" cy="838.40" r="10.0" fill="#fff"/><circle cx="908.81" cy="838.40" r="5.4" fill="#2ca02c"/>
<circle cx="913.09" cy="838.40" r="10.0" fill="#fff"/><circle cx="913.09" cy="838.40" r="5.4" fill="#2ca02c"/>
<circle cx="917.37" cy="838.40" r="10.0" fill="#fff"/><circle cx="917.37" cy="838.40" r="5.4" fill="#2ca02c"/>
<circle cx="921.65" cy="838.40" r="10.0" fill="#fff"/><circle cx="921.65" cy="838.40" r="5.4" fill="#2ca02c"/>
<circle cx="925.93" cy="838.40" r="10.0" fill="#fff"/><circle cx="925.93" cy="838.40" r="5.4" fill="#2ca02c"/>
<circle cx="930.20" cy="838.40" r="10.0" fill="#fff"/><circle cx="930.20" cy="838.40" r="5.4" fill="#2ca02c"/>
<circle cx="934.48" cy="838.40" r="10.0" fill="#fff"/><circle cx="934.48" cy="838.40" r="5.4" fill="#2ca02c"/>
<circle cx="938.76" cy="838.40" r="10.0" fill="#fff"/><circle cx="938.76" cy="838.40" r="5.4" fill="#2ca02c"/>
<circle cx="943.04" cy="838.40" r="10.0" fill="#fff"/><circle cx="943.04" cy="838.40" r="5.4" fill="#2ca02c"/>
<circle cx="947.32" cy="838.40" r="10.0" fill="#fff"/><circle cx="947.32" cy="838.40" r="5.4" fill="#2ca02c"/>
<circle cx="951.60" cy="838.40" r="10.0" fill="#fff"/><circle cx="951.60" cy="838.40" r="5.4" fill="#2ca02c"/>
<circle cx="955.88" cy="838.40" r="10.0" fill="#fff"/><circle cx="955.88" cy="838.40" r="5.4" fill="#2ca02c"/>
<circle cx="960.16" cy="838.40" r="10.0" fill="#fff"/><circle cx="960.16" cy="838.40" r="5.4" fill="#2ca02c"/>
<circle cx="964.44" cy="838.40" r="10.0" fill="#fff"/><circle cx="964.44" cy="838.40" r="5.4" fill="#2ca02c"/>
<circle cx="968.72" cy="838.40" r="10.0" fill="#fff"/><circle cx="968.72" cy="838.40" r="5.4" fill="#2ca02c"/>
<circle cx="972.99" cy="838.40" r="10.0" fill="#fff"/><circle cx="972.99" cy="838.40" r="5.4" fill="#2ca02c"/>
<circle cx="977.27" cy="838.40" r="10.0" fill="#fff"/><circle cx="977.27" cy="838.40" r="5.4" fill="#2ca02c"/>
<circle cx="981.55" cy="838.40" r="10.0" fill="#fff"/><circle cx="981.55" cy="838.40" r="5.4" fill="#2ca02c"/>
<circle cx="985.83" cy="838.40" r="10.0" fill="#fff"/><circle cx="985.83" cy="838.40" r="5.4" fill="#2ca02c"/>
<circle cx="990.11" cy="838.40" r="10.0" fill="#fff"/><circle cx="990.11" cy="838.40" r="5.4" fill="#2ca02c"/>
<circle cx="994.39" cy="838.40" r="10.0" fill="#fff"/><circle cx="994.39" cy="838.40" r="5.4" fill="#2ca02c"/>
<path d="M91.5 834.2L90.5 835.6V841.4L91.5 842.8M104.4 834.2L103.4 835.6V841.4L104.4 842.8M121.3 834.2L120.3 835.6V841.4L121.3 842.8M134.7 834.2L133.7 835.6V841.4L134.7 842.8M151.6 834.2L150.6 835.6V841.4L151.6 842.8M168.7 834.2L167.7 835.6V841.4L168.7 842.8M181.6 834.2L180.6 835.6V841.4L181.6 842.8M198.5 834.2L197.5 835.6V841.4L198.5 842.8M211.7 834.2L210.7 835.6V841.4L211.7 842.8M228.5 834.2L227.5 835.6V841.4L228.5 842.8M241.9 834.2L240.9 835.6V841.4L241.9 842.8M258.8 834.2L257.8 835.6V841.4L258.8 842.8M275.3 834.2L274.3 835.6V841.4L275.3 842.8M288.8 834.2L287.8 835.6V841.4L288.8 842.8M305.4 834.2L304.4 835.6V841.4L305.4 842.8M318.5 834.2L317.5 835.6V841.4L318.5 842.8M335.6 834.2L334.6 835.6V841.4L335.6 842.8M352.5 834.2L351.5 835.6V841.4L352.5 842.8M365.3 834.2L364.3 835.6V841.4L365.3 842.8M382.4 834.2L381.4 835.6V841.4L382.4 842.8M395.7 834.2L394.7 835.6V841.4L395.7 842.8M412.6 834.2L411.6 835.6V841.4L412.6 842.8M425.6 834.2L424.6 835.6V841.4L425.6 842.8M442.5 834.2L441.5 835.6V841.4L442.5 842.8M455.4 834.2L454.4 835.6V841.4L455.4 842.8M472.5 834.2L471.5 835.6V841.4L472.5 842.8M489.4 834.2L488.4 835.6V841.4L489.4 842.8M502.8 834.2L501.8 835.6V841.4L502.8 842.8M519.7 834.2L518.7 835.6V841.4L519.7 842.8M532.9 834.2L531.9 835.6V841.4L532.9 842.8M549.6 834.2L548.6 835.6V841.4L549.6 842.8M566.9 834.2L565.9 835.6V841.4L566.9 842.8M579.8 834.2L578.8 835.6V841.4L579.8 842.8M596.9 834.2L595.9 835.6V841.4L596.9 842.8M609.8 834.2L608.8 835.6V841.4L609.8 842.8M626.8 834.2L625.8 835.6V841.4L626.8 842.8M639.7 834.2L638.7 835.6V841.4L639.7 842.8M656.8 834.2L655.8 835.6V841.4L656.8 842.8M669.7 834.2L668.7 835.6V841.4L669.7 842.8M686.6 834.2L685.6 835.6V841.4L686.6 842.8M703.5 834.2L702.5 835.6V841.4L703.5 842.8M716.7 834.2L715.7 835.6V841.4L716.7 842.8M734.0 834.2L733.0 835.6V841.4L734.0 842.8M750.7 834.2L749.7 835.6V841.4L750.7 842.8M763.7 834.2L762.7 835.6V841.4L763.7 842.8M780.6 834.2L779.6 835.6V841.4L780.6 842.8M793.5 834.2L792.5 835.6V841.4L793.5 842.8M810.6 834.2L809.6 835.6V841.4L810.6 842.8M823.8 834.2L822.8 835.6V841.4L823.8 842.8M840.7 834.2L839.7 835.6V841.4L840.7 842.8M853.8 834.2L852.8 835.6V841.4L853.8 842.8M870.7 834.2L869.7 835.6V841.4L870.7 842.8M887.6 834.2L886.6 835.6V841.4L887.6 842.8M901.0 834.2L900.0 835.6V841.4L901.0 842.8M917.6 834.2L916.6 835.6V841.4L917.6 842.8M930.6 834.2L929.6 835.6V841.4L930.6 842.8M947.7 834.2L946.7 835.6V841.4L947.7 842.8M964.4 834.2L963.4 835.6V841.4L964.4 842.8M977.7 834.2L976.7 835.6V841.4L977.7 842.8" stroke="#2ca02c" stroke-opacity="0.5" stroke-width="0.7" fill="none"/>
<path d="M95.5 57.5V838.5H1165.5" stroke="#000" stroke-width="1" fill="none"/>
<path d="M1097.5 74.40H1111.3M1131.7 74.40H1145.6" stroke="#0060ad" stroke-width="2.0"/>
<circle cx="1121.5" cy="74.40" r="5.4" fill="#0060ad"/>
<text x="1056.82 1065.89 1076.77" y="79.90">TCP</text>
<path d="M1097.5 93.30H1111.3M1131.7 93.30H1145.6" stroke="#ff7f00" stroke-width="2.0"/>
<circle cx="1121.5" cy="93.30" r="5.4" fill="#ff7f00"/>
<text x="1053.29 1065.31 1076.77" y="98.80">UDP</text>
<path d="M1097.5 112.20H1111.3M1131.7 112.20H1145.6" stroke="#2ca02c" stroke-width="2.0"/>
<circle cx="1121.5" cy="112.20" r="5.4" fill="#2ca02c"/>
<text x="968.85 972.77 983.41 988.62 995.42 1000.26 1009.33 1020.21 1030.85 1035.94 1041.70 1047.04 1059.06 1070.52 1081.28" y="117.70">IP (!TCP  !UDP)</text>
<text x="76.43" y="844.60">0</text>
<text x="56.06 66.25 76.43" y="757.60">500</text>
<text x="45.87 56.06 66.25 76.43" y="670.60">1000</text>
<text x="45.87 56.06 66.25 76.43" y="583.60">1500</text>
<text x="45.87 56.06 66.25 76.43" y="497.60">2000</text>
<text x="45.87 56.06 66.25 76.43" y="410.60">2500</text>
<text x="45.87 56.06 66.25 76.43" y="323.60">3000</text>
<text x="45.87 56.06 66.25 76.43" y="236.60">3500</text>
<text x="45.87 56.06 66.25 76.43" y="149.60">4000</text>
<text x="45.87 56.06 66.25 76.43" y="62.60">4500</text>
<text x="93.43" y="864.00">0</text>
<text x="302.33 312.52" y="864.00">50</text>
<text x="511.24 521.43 531.62" y="864.00">100</text>
<text x="725.24 735.43 745.62" y="864.00">150</text>
<text x="939.24 949.43 959.62" y="864.00">200</text>
<text x="1153.24 1163.43 1173.62" y="864.00">250</text>
<text x="597.45 607.59 612.49 627.53 637.34 642.55 648.44 657.14" y="892.10">Time (s)</text>
<g transform="translate(23.9 447.9) rotate(-90)"><text x="-31.49 -21.19 -11.41 -2.66 6.14 16.54 21.99" y="0.00">Packets</text></g>
<text x="16.36 22.19 37.38 47.93 53.77 58.77 67.95 73.65 83.71 90.22 100.35 105.35 113.97 123.80 133.69 139.81 148.80 158.91 163.36 167.86 178.01 188.56 194.39 199.62 208.45 218.51 225.00 235.15 244.86 253.60 259.11 272.08 276.49 282.66 292.66 302.80 312.78 322.71 329.06 339.17 344.31 354.30 363.64 373.64 383.73 390.17 395.07 410.11 420.10 430.65" y="34.90">/mnt/stor0/searchlight/corpus/wireguard/experiment</text>
<text x="436.69" y="39.00" style="font-size:12.6px">2</text>
<text x="444.63 449.91 460.31 466.18 476.34" y="34.90">/eth1</text>
<text x="486.49" y="39.00" style="font-size:12.6px">i</text>
<text x="490.07 500.62 506.34 516.43 523.00 528.39 538.17 547.02 556.97 561.97 571.15 576.60 585.33 590.47 600.46 609.80 619.64 625.73 634.84 638.38 647.73 654.21 664.20 674.16 679.61 689.80 699.98 710.17 720.36 730.55 740.73 750.92 761.11 771.30 781.16 787.24 797.41 807.27 812.92 821.55 831.63 838.25 847.44 857.52 863.58 872.17 877.25 886.27 896.00 904.80 915.04 928.06 937.78 946.96 952.41 960.99 966.27 976.42 986.57 997.11 1012.31 1022.28 1027.56 1037.71 1047.69 1057.59 1063.73 1073.27 1081.73 1087.53 1097.52 1106.86 1116.70 1122.80 1131.91 1135.45 1144.79 1151.27 1161.27 1171.07 1176.36 1186.31 1195.14 1205.13" y="34.90">nterface/sts/exp-b-True/1651020359-h0-servers.c5s3wgsts.hdumb.pharos-exp-b-True.pcap</text>
</svg>
</body></html>
